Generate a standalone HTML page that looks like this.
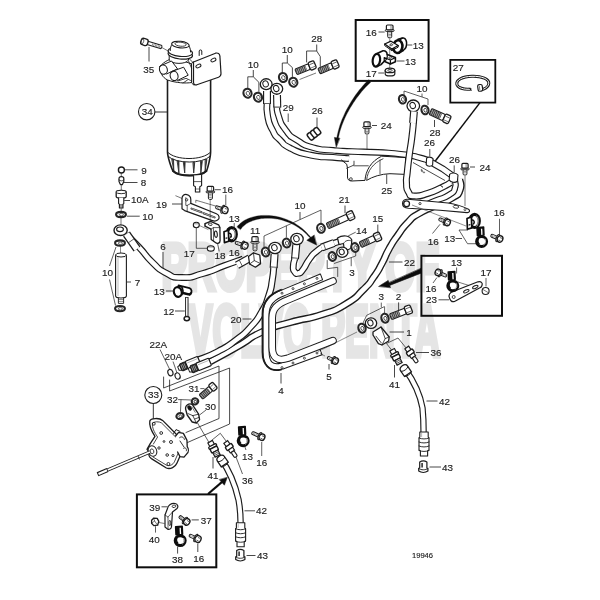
<!DOCTYPE html>
<html><head><meta charset="utf-8"><title>Fuel system parts diagram 19946</title>
<style>
html,body{margin:0;padding:0;background:#fff;}
body{width:600px;height:600px;overflow:hidden;font-family:"Liberation Sans",sans-serif;}
svg{display:block;will-change:transform;}
svg text{font-family:"Liberation Sans",sans-serif;}
</style></head><body>
<svg width="600" height="600" viewBox="0 0 600 600">
<defs><filter id="soft" x="0" y="0" width="600" height="600" filterUnits="userSpaceOnUse"><feGaussianBlur stdDeviation="0.42"/></filter></defs>
<rect x="0" y="0" width="600" height="600" fill="#ffffff"/>
<g filter="url(#soft)">
<g fill="#e5e5e5" font-weight="bold" stroke="#e5e5e5" stroke-width="4.2" stroke-linejoin="miter" stroke-miterlimit="3">
<text x="0" y="0" font-size="67" transform="translate(161.5 289.6) scale(0.5797 1)" style="vector-effect:non-scaling-stroke" vector-effect="non-scaling-stroke">PROPERTY OF</text>
<text x="0" y="0" font-size="72" transform="translate(188.5 356) scale(0.4975 1)" style="vector-effect:non-scaling-stroke" vector-effect="non-scaling-stroke">VOLVO PENTA</text>
</g>
<rect x="355.7" y="20" width="72.90000000000003" height="60.900000000000006" fill="#fff" stroke="#111" stroke-width="2.0"/>
<rect x="450.3" y="59.9" width="45.0" height="42.699999999999996" fill="#fff" stroke="#111" stroke-width="1.8"/>
<rect x="421.4" y="255.8" width="80.6" height="60" fill="none" stroke="#111" stroke-width="2"/>
<rect x="136.9" y="494.4" width="79.4" height="72.89999999999998" fill="#fff" stroke="#111" stroke-width="2.0"/>
<path d="M368.5,79.8 L366.7,81.7 L364.9,83.6 L363.1,85.6 L361.3,87.7 L359.5,89.8 L357.8,92.0 L356.1,94.3 L354.5,96.6 L352.9,99.0 L351.3,101.4 L349.8,103.9 L348.4,106.4 L347.0,109.0 L345.6,111.6 L344.4,114.2 L343.2,116.9 L342.0,119.6 L341.0,122.3 L340.0,125.0 L339.2,127.8 L338.4,130.5 L337.7,133.3 L337.1,136.1 L336.7,138.9 L338.1,139.1 L338.7,136.4 L339.3,133.7 L340.0,131.0 L340.9,128.3 L341.8,125.6 L342.8,123.0 L343.9,120.3 L345.0,117.7 L346.3,115.1 L347.6,112.6 L349.0,110.1 L350.4,107.6 L351.9,105.2 L353.4,102.8 L355.0,100.4 L356.6,98.1 L358.3,95.9 L360.0,93.7 L361.7,91.6 L363.5,89.6 L365.3,87.6 L367.1,85.7 L368.9,83.9 L370.7,82.2 Z" stroke="#111" stroke-width="0.3" fill="#111" stroke-linejoin="round" stroke-linecap="round" />
<path d="M336.2,147.0 L334.4,137.4 L339.6,138.2 Z" stroke="#111" stroke-width="0.5" fill="#111" stroke-linejoin="round" stroke-linecap="round" />
<line x1="480.0" y1="102.6" x2="426.5" y2="172.5" stroke="#111" stroke-width="1.5" />
<path d="M421.0,268.6 L421.0,273.2 L389.6,285.4 L388.8,283.0 Z" stroke="#111" stroke-width="0.6" fill="#111" stroke-linejoin="round" stroke-linecap="round" />
<path d="M378.9,286.3 L388.2,280.4 L390.4,287.4 Z" stroke="#111" stroke-width="0.6" fill="#111" stroke-linejoin="round" stroke-linecap="round" />
<line x1="208.0" y1="494.0" x2="222.4" y2="481.6" stroke="#111" stroke-width="2.1" />
<path d="M227.2,477.6 L224.4,485.2 L219.4,479.8 Z" stroke="#111" stroke-width="0.5" fill="#111" stroke-linejoin="round" stroke-linecap="round" />
<path d="M240.6,229.5 L241.4,228.4 L242.2,227.3 L243.2,226.3 L244.2,225.4 L245.4,224.5 L246.6,223.6 L248.0,222.8 L249.4,222.1 L250.9,221.4 L252.4,220.8 L254.1,220.2 L255.8,219.7 L257.5,219.3 L259.4,218.9 L261.2,218.6 L263.1,218.4 L265.1,218.3 L267.1,218.2 L269.1,218.2 L271.2,218.3 L273.3,218.5 L275.3,218.8 L277.5,219.1 L279.6,219.6 L281.7,220.1 L283.8,220.7 L285.9,221.4 L288.1,222.2 L290.2,223.0 L292.2,224.0 L294.3,225.1 L296.3,226.2 L298.3,227.5 L300.3,228.9 L302.2,230.3 L304.1,231.9 L306.0,233.6 L307.7,235.4 L309.5,237.3 L311.1,239.3 L311.9,238.7 L310.2,236.6 L308.5,234.7 L306.8,232.8 L305.0,231.0 L303.1,229.3 L301.2,227.7 L299.2,226.3 L297.2,224.9 L295.1,223.6 L293.1,222.4 L290.9,221.3 L288.8,220.4 L286.7,219.5 L284.5,218.7 L282.3,217.9 L280.1,217.3 L277.9,216.8 L275.7,216.3 L273.6,216.0 L271.4,215.7 L269.3,215.5 L267.1,215.4 L265.0,215.4 L262.9,215.4 L260.9,215.6 L258.9,215.8 L256.9,216.1 L255.0,216.5 L253.1,216.9 L251.3,217.4 L249.5,218.1 L247.8,218.7 L246.2,219.5 L244.6,220.3 L243.1,221.2 L241.7,222.2 L240.4,223.3 L239.2,224.4 L238.0,225.6 L237.0,226.9 Z" stroke="#111" stroke-width="0.3" fill="#111" stroke-linejoin="round" stroke-linecap="round" />
<path d="M316.5,245.0 L306.8,240.3 L314.0,235.2 Z" stroke="#111" stroke-width="0.5" fill="#111" stroke-linejoin="round" stroke-linecap="round" />
<path d="M404,157 L430,161 L452,176 L449,183 L414,195 L404,192 Z" stroke="#1c1c1c" stroke-width="0.0" fill="#fff" stroke-linejoin="round" stroke-linecap="round" />
<line x1="413.0" y1="162.5" x2="445.0" y2="180.5" stroke="#1c1c1c" stroke-width="0.8" />
<path d="M267.3,100.0 C267.4,105.0 265.8,105.0 267.5,115.0 C269.2,125.0 268.3,121.7 272.5,130.0 C276.7,138.3 273.8,133.8 280.0,140.0 C286.2,146.2 280.7,143.4 291.0,148.5 C301.3,153.6 297.0,152.3 311.0,155.2 C325.0,158.1 320.3,156.2 333.0,157.3 C345.7,158.4 343.7,158.2 349.0,158.6" stroke="#1c1c1c" stroke-width="6.8" fill="none" stroke-linecap="butt" stroke-linejoin="round"/>
<path d="M267.3,100.0 C267.4,105.0 265.8,105.0 267.5,115.0 C269.2,125.0 268.3,121.7 272.5,130.0 C276.7,138.3 273.8,133.8 280.0,140.0 C286.2,146.2 280.7,143.4 291.0,148.5 C301.3,153.6 297.0,152.3 311.0,155.2 C325.0,158.1 320.3,156.2 333.0,157.3 C345.7,158.4 343.7,158.2 349.0,158.6" stroke="#fff" stroke-width="4.5" fill="none" stroke-linecap="butt" stroke-linejoin="round"/>
<path d="M341.5,160 L346.7,164.2 L347.5,168.3 L347.5,177 C347.5,179.5 349,181 351.5,181 L365,180.4 C365.5,171 371,161 381.7,156.2 L405.5,157.5 L405.5,174.4 L390,173.7 C381,174 373,176.5 366.7,180.3" stroke="#1c1c1c" stroke-width="1.0" fill="#fff" stroke-linejoin="round" stroke-linecap="round" />
<path d="M366.7,179.5 C367.5,171 373,163 383,158.8" stroke="#1c1c1c" stroke-width="0.8" fill="none" stroke-linejoin="round" stroke-linecap="round" />
<path d="M346.7,168.3 L354,165 L354,161.2 M354,165.8 L368.3,165.8" stroke="#1c1c1c" stroke-width="0.8" fill="none" stroke-linejoin="round" stroke-linecap="round" />
<line x1="380.0" y1="159.5" x2="380.0" y2="174.2" stroke="#1c1c1c" stroke-width="0.7" />
<circle cx="350.9" cy="179.1" r="1.4" stroke="#1c1c1c" stroke-width="0.8" fill="none"/>
<text x="386.7" y="194.3" font-size="9.9" text-anchor="middle" fill="#222" stroke="#222" stroke-width="0.15">25</text>
<line x1="386.7" y1="174.5" x2="386.7" y2="184.0" stroke="#1c1c1c" stroke-width="0.8" />
<path d="M277.3,104.0 C277.6,107.7 275.4,106.2 278.3,115.0 C281.2,123.8 279.6,122.0 286.0,130.5 C292.4,139.0 288.5,134.8 297.5,140.5 C306.5,146.2 301.2,144.3 313.0,147.6 C324.8,150.9 320.0,149.0 333.0,150.3 C346.0,151.6 337.0,150.8 352.0,151.5 C367.0,152.2 361.0,151.4 378.0,152.4 C395.0,153.4 389.0,152.6 403.0,154.4 C417.0,156.2 411.3,155.6 420.0,157.8 C428.7,160.0 426.0,159.9 429.0,161.0" stroke="#1c1c1c" stroke-width="6.6" fill="none" stroke-linecap="butt" stroke-linejoin="round"/>
<path d="M277.3,104.0 C277.6,107.7 275.4,106.2 278.3,115.0 C281.2,123.8 279.6,122.0 286.0,130.5 C292.4,139.0 288.5,134.8 297.5,140.5 C306.5,146.2 301.2,144.3 313.0,147.6 C324.8,150.9 320.0,149.0 333.0,150.3 C346.0,151.6 337.0,150.8 352.0,151.5 C367.0,152.2 361.0,151.4 378.0,152.4 C395.0,153.4 389.0,152.6 403.0,154.4 C417.0,156.2 411.3,155.6 420.0,157.8 C428.7,160.0 426.0,159.9 429.0,161.0" stroke="#fff" stroke-width="4.3" fill="none" stroke-linecap="butt" stroke-linejoin="round"/>
<path d="M429,161 L443,169 L453.5,176.5" stroke="#1c1c1c" stroke-width="7" fill="none" stroke-linecap="butt" stroke-linejoin="round"/>
<path d="M429,161 L443,169 L453.5,176.5" stroke="#fff" stroke-width="4.7" fill="none" stroke-linecap="butt" stroke-linejoin="round"/>
<path d="M459.5,179.0 C459.7,182.7 462.5,183.7 460.0,190.0 C457.5,196.3 460.0,192.8 452.0,198.0 C444.0,203.2 447.1,200.3 436.0,205.5 C424.9,210.7 428.0,208.1 418.7,213.7 C409.4,219.3 414.9,215.2 408.0,222.3 C401.1,229.4 404.3,226.1 398.0,235.0 C391.7,243.9 394.3,239.6 389.0,249.0 C383.7,258.4 387.0,254.1 382.0,263.3 C377.0,272.5 380.3,267.8 374.0,276.7 C367.7,285.6 372.3,280.9 363.0,290.0 C353.7,299.1 359.7,295.8 346.0,304.0 C332.3,312.2 340.7,308.3 322.0,314.5 C303.3,320.7 310.0,316.7 290.0,322.5 C270.0,328.3 279.3,324.1 262.0,332.0 C244.7,339.9 255.3,336.4 238.0,346.3 C220.7,356.2 219.3,356.6 210.0,361.7" stroke="#1c1c1c" stroke-width="7.4" fill="none" stroke-linecap="butt" stroke-linejoin="round"/>
<path d="M459.5,179.0 C459.7,182.7 462.5,183.7 460.0,190.0 C457.5,196.3 460.0,192.8 452.0,198.0 C444.0,203.2 447.1,200.3 436.0,205.5 C424.9,210.7 428.0,208.1 418.7,213.7 C409.4,219.3 414.9,215.2 408.0,222.3 C401.1,229.4 404.3,226.1 398.0,235.0 C391.7,243.9 394.3,239.6 389.0,249.0 C383.7,258.4 387.0,254.1 382.0,263.3 C377.0,272.5 380.3,267.8 374.0,276.7 C367.7,285.6 372.3,280.9 363.0,290.0 C353.7,299.1 359.7,295.8 346.0,304.0 C332.3,312.2 340.7,308.3 322.0,314.5 C303.3,320.7 310.0,316.7 290.0,322.5 C270.0,328.3 279.3,324.1 262.0,332.0 C244.7,339.9 255.3,336.4 238.0,346.3 C220.7,356.2 219.3,356.6 210.0,361.7" stroke="#fff" stroke-width="4.7" fill="none" stroke-linecap="butt" stroke-linejoin="round"/>
<path d="M454.5,179.0 C454.7,182.0 456.8,182.7 455.0,188.0 C453.2,193.3 455.3,190.8 449.0,195.0 C442.7,199.2 444.3,197.0 436.0,200.5 C427.7,204.0 428.0,203.8 424.0,205.5" stroke="#1c1c1c" stroke-width="6.4" fill="none" stroke-linecap="butt" stroke-linejoin="round"/>
<path d="M454.5,179.0 C454.7,182.0 456.8,182.7 455.0,188.0 C453.2,193.3 455.3,190.8 449.0,195.0 C442.7,199.2 444.3,197.0 436.0,200.5 C427.7,204.0 428.0,203.8 424.0,205.5" stroke="#fff" stroke-width="4.1000000000000005" fill="none" stroke-linecap="butt" stroke-linejoin="round"/>
<path d="M413.6,121.0 C413.0,126.7 413.2,126.7 411.8,138.0 C410.4,149.3 410.8,143.7 409.3,155.0 C407.8,166.3 408.2,162.7 407.3,172.0 C406.4,181.3 406.1,176.3 406.5,183.0 C406.9,189.7 405.8,187.7 408.5,192.0 C411.2,196.3 408.0,195.6 414.5,196.0 C421.0,196.4 418.8,196.2 428.0,193.3 C437.2,190.4 434.3,190.9 442.0,187.3 C449.7,183.7 448.0,184.1 451.0,182.5" stroke="#1c1c1c" stroke-width="7.0" fill="none" stroke-linecap="butt" stroke-linejoin="round"/>
<path d="M413.6,121.0 C413.0,126.7 413.2,126.7 411.8,138.0 C410.4,149.3 410.8,143.7 409.3,155.0 C407.8,166.3 408.2,162.7 407.3,172.0 C406.4,181.3 406.1,176.3 406.5,183.0 C406.9,189.7 405.8,187.7 408.5,192.0 C411.2,196.3 408.0,195.6 414.5,196.0 C421.0,196.4 418.8,196.2 428.0,193.3 C437.2,190.4 434.3,190.9 442.0,187.3 C449.7,183.7 448.0,184.1 451.0,182.5" stroke="#fff" stroke-width="4.7" fill="none" stroke-linecap="butt" stroke-linejoin="round"/>
<line x1="440.0" y1="185.0" x2="443.0" y2="187.5" stroke="#1c1c1c" stroke-width="0.7" />
<circle cx="422.2" cy="171.2" r="0.6" stroke="#1c1c1c" stroke-width="0.6" fill="none"/>
<circle cx="424.0" cy="172.4" r="0.6" stroke="#1c1c1c" stroke-width="0.6" fill="none"/>
<path d="M402.5,203.5 C402.5,200.5 405,199 408,199.3 L448,203 C455,204 463,206.5 468.5,209.3 C470.5,210.5 469.5,212.8 467,212.6 L440,210.3 L408.5,208.3 C405,208 402.5,206.5 402.5,203.5 Z" stroke="#1c1c1c" stroke-width="1.1" fill="#fff" stroke-linejoin="round" stroke-linecap="round" />
<ellipse cx="456.0" cy="206.8" rx="2.8" ry="1.4" transform="rotate(8 456.0 206.8)" stroke="#1c1c1c" stroke-width="0.8" fill="none"/>
<circle cx="465.0" cy="209.6" r="1.0" stroke="#1c1c1c" stroke-width="0.7" fill="none"/>
<circle cx="406.6" cy="203.8" r="2.9" stroke="#1c1c1c" stroke-width="1.3" fill="none"/>
<circle cx="420.0" cy="203.6" r="1.1" stroke="#1c1c1c" stroke-width="0.8" fill="none"/>
<path d="M273.8,266.0 C273.3,270.7 274.0,270.0 272.3,280.0 C270.6,290.0 272.2,285.3 268.6,296.0 C265.0,306.7 267.6,301.7 261.6,312.0 C255.6,322.3 259.1,317.7 250.6,327.0 C242.1,336.3 246.9,331.8 236.0,340.0 C225.1,348.2 230.7,344.8 218.0,351.5 C205.3,358.2 204.7,357.2 198.0,360.0" stroke="#1c1c1c" stroke-width="7.0" fill="none" stroke-linecap="butt" stroke-linejoin="round"/>
<path d="M273.8,266.0 C273.3,270.7 274.0,270.0 272.3,280.0 C270.6,290.0 272.2,285.3 268.6,296.0 C265.0,306.7 267.6,301.7 261.6,312.0 C255.6,322.3 259.1,317.7 250.6,327.0 C242.1,336.3 246.9,331.8 236.0,340.0 C225.1,348.2 230.7,344.8 218.0,351.5 C205.3,358.2 204.7,357.2 198.0,360.0" stroke="#fff" stroke-width="4.6000000000000005" fill="none" stroke-linecap="butt" stroke-linejoin="round"/>
<path d="M126.0,234.5 C130.3,238.7 130.2,237.9 139.0,247.2 C147.8,256.5 143.5,253.9 152.5,262.5 C161.5,271.1 156.2,268.0 166.0,273.0 C175.8,278.0 169.7,277.3 182.0,277.5 C194.3,277.7 188.8,277.5 203.0,273.5 C217.2,269.5 211.4,270.3 224.7,265.5 C238.0,260.7 236.9,261.2 243.0,259.0" stroke="#1c1c1c" stroke-width="6.8" fill="none" stroke-linecap="butt" stroke-linejoin="round"/>
<path d="M126.0,234.5 C130.3,238.7 130.2,237.9 139.0,247.2 C147.8,256.5 143.5,253.9 152.5,262.5 C161.5,271.1 156.2,268.0 166.0,273.0 C175.8,278.0 169.7,277.3 182.0,277.5 C194.3,277.7 188.8,277.5 203.0,273.5 C217.2,269.5 211.4,270.3 224.7,265.5 C238.0,260.7 236.9,261.2 243.0,259.0" stroke="#fff" stroke-width="4.5" fill="none" stroke-linecap="butt" stroke-linejoin="round"/>
<path d="M295.0,258.0 C294.4,260.7 293.5,261.5 293.3,266.0 C293.1,270.5 292.8,269.1 294.5,271.5 C296.2,273.9 295.7,274.0 298.5,273.3 C301.3,272.6 299.3,274.3 303.0,269.5 C306.7,264.7 304.8,265.2 309.5,259.0 C314.2,252.8 311.5,255.3 317.0,251.0 C322.5,246.7 318.3,249.2 326.0,246.0 C333.7,242.8 335.3,242.9 340.0,241.3" stroke="#1c1c1c" stroke-width="6.8" fill="none" stroke-linecap="butt" stroke-linejoin="round"/>
<path d="M295.0,258.0 C294.4,260.7 293.5,261.5 293.3,266.0 C293.1,270.5 292.8,269.1 294.5,271.5 C296.2,273.9 295.7,274.0 298.5,273.3 C301.3,272.6 299.3,274.3 303.0,269.5 C306.7,264.7 304.8,265.2 309.5,259.0 C314.2,252.8 311.5,255.3 317.0,251.0 C322.5,246.7 318.3,249.2 326.0,246.0 C333.7,242.8 335.3,242.9 340.0,241.3" stroke="#fff" stroke-width="4.5" fill="none" stroke-linecap="butt" stroke-linejoin="round"/>
<path d="M321.5,276.8 L284,292.5 C271,297 266,304 266,314 L266,352 C266,363 271,369.5 282,366 L321,351.8" stroke="#1c1c1c" stroke-width="7.2" fill="none" stroke-linejoin="round" stroke-linecap="butt"/>
<path d="M321.5,276.8 L284,292.5 C271,297 266,304 266,314 L266,352 C266,363 271,369.5 282,366 L321,351.8" stroke="#fff" stroke-width="5.2" fill="none" stroke-linejoin="round" stroke-linecap="butt"/>
<line x1="320.3" y1="273.6" x2="322.7" y2="280.2" stroke="#1c1c1c" stroke-width="1.0" />
<line x1="319.8" y1="348.6" x2="322.2" y2="355.2" stroke="#1c1c1c" stroke-width="1.0" />
<path d="M281,289.8 C268,294.5 262.5,302 262.5,314 L262.5,352 C262.5,364 269,372.5 281,369.6" stroke="#1c1c1c" stroke-width="1.8" fill="none" stroke-linejoin="round" stroke-linecap="round" />
<path d="M333,281 L288,299.8 C277,304 272.2,309 272.2,318 L272.2,347 C272.2,357 277,362 288,358.2 L333,340.6" stroke="#1c1c1c" stroke-width="7.6" fill="none" stroke-linejoin="round" stroke-linecap="round"/>
<path d="M333,281 L288,299.8 C277,304 272.2,309 272.2,318 L272.2,347 C272.2,357 277,362 288,358.2 L333,340.6" stroke="#fff" stroke-width="5.6" fill="none" stroke-linejoin="round" stroke-linecap="round"/>
<circle cx="282.0" cy="293.2" r="1.0" stroke="#1c1c1c" stroke-width="0.8" fill="none"/>
<circle cx="293.0" cy="288.6" r="1.0" stroke="#1c1c1c" stroke-width="0.8" fill="none"/>
<circle cx="304.4" cy="283.8" r="1.0" stroke="#1c1c1c" stroke-width="0.8" fill="none"/>
<circle cx="317.0" cy="278.4" r="1.0" stroke="#1c1c1c" stroke-width="0.8" fill="none"/>
<circle cx="282.0" cy="367.6" r="1.0" stroke="#1c1c1c" stroke-width="0.8" fill="none"/>
<circle cx="293.0" cy="363.0" r="1.0" stroke="#1c1c1c" stroke-width="0.8" fill="none"/>
<circle cx="304.4" cy="358.2" r="1.0" stroke="#1c1c1c" stroke-width="0.8" fill="none"/>
<circle cx="317.0" cy="353.0" r="1.0" stroke="#1c1c1c" stroke-width="0.8" fill="none"/>
<path d="M220.6,458.5 C227.6,468 235,484 238.6,500 C240,508 240.6,515 240.6,523" stroke="#1c1c1c" stroke-width="6.4" fill="none" stroke-linecap="butt" stroke-linejoin="round"/>
<path d="M220.6,458.5 C227.6,468 235,484 238.6,500 C240,508 240.6,515 240.6,523" stroke="#fff" stroke-width="4.1000000000000005" fill="none" stroke-linecap="butt" stroke-linejoin="round"/>
<path d="M405,369 C413,380 420,394 422.5,408 C423.5,418 423.6,425 423.6,433" stroke="#1c1c1c" stroke-width="6.4" fill="none" stroke-linecap="butt" stroke-linejoin="round"/>
<path d="M405,369 C413,380 420,394 422.5,408 C423.5,418 423.6,425 423.6,433" stroke="#fff" stroke-width="4.1000000000000005" fill="none" stroke-linecap="butt" stroke-linejoin="round"/>
<path d="M167.5,79 L167.5,152 C167.5,157 171.6,168.6 173,171 C179,177 200.4,177 206.4,171 C207.8,168.4 210.6,157 210.6,152 L210.6,80" stroke="#1c1c1c" stroke-width="1.6" fill="#fff" stroke-linejoin="round" stroke-linecap="round" />
<path d="M167.5,152 C175,160.8 203,160.8 210.6,152" stroke="#1c1c1c" stroke-width="1.0" fill="none" stroke-linejoin="round" stroke-linecap="round" />
<path d="M168.2,156.4 C176,164 202.6,164 209.9,156.4" stroke="#1c1c1c" stroke-width="1.0" fill="none" stroke-linejoin="round" stroke-linecap="round" />
<path d="M172.10000000000002,159 L173.5,159 L173.83200000000002,170.6 Z" stroke="#2a2a2a" stroke-width="0.9" fill="#2a2a2a" stroke-linejoin="round" stroke-linecap="round" />
<path d="M177.5,161 L178.89999999999998,161 L178.908,172.6 Z" stroke="#2a2a2a" stroke-width="0.9" fill="#2a2a2a" stroke-linejoin="round" stroke-linecap="round" />
<path d="M183.70000000000002,162.2 L185.1,162.2 L184.73600000000002,172.6 Z" stroke="#2a2a2a" stroke-width="0.9" fill="#2a2a2a" stroke-linejoin="round" stroke-linecap="round" />
<path d="M193.3,162.4 L194.7,162.4 L193.76,172.6 Z" stroke="#2a2a2a" stroke-width="0.9" fill="#2a2a2a" stroke-linejoin="round" stroke-linecap="round" />
<path d="M200.9,161.2 L202.29999999999998,161.2 L200.904,172.6 Z" stroke="#2a2a2a" stroke-width="0.9" fill="#2a2a2a" stroke-linejoin="round" stroke-linecap="round" />
<path d="M205.5,159.4 L206.89999999999998,159.4 L205.22799999999998,170.6 Z" stroke="#2a2a2a" stroke-width="0.9" fill="#2a2a2a" stroke-linejoin="round" stroke-linecap="round" />
<path d="M173,171 C179,177 200.4,177 206.4,171" stroke="#1c1c1c" stroke-width="1.9" fill="none" stroke-linejoin="round" stroke-linecap="round" />
<path d="M193.6,175.6 L193.6,185.6 L195.4,186.8 L195.4,192 L199.8,192 L199.8,186.8 L201.6,185.6 L201.6,175" stroke="#1c1c1c" stroke-width="1.1" fill="#fff" stroke-linejoin="round" stroke-linecap="round" />
<line x1="193.6" y1="181.6" x2="201.6" y2="181.6" stroke="#1c1c1c" stroke-width="0.7" />
<line x1="195.4" y1="189.0" x2="199.8" y2="189.0" stroke="#1c1c1c" stroke-width="0.6" />
<path d="M193.5,62 L215.5,53.2 C218,52.5 219.6,53.6 219.9,56 L221,73.5 C221,75.5 220,76.6 218.5,77.2 L196.8,84.8 C194.6,85.3 193.6,84.2 193.5,82.2 Z" stroke="#1c1c1c" stroke-width="1.2" fill="#fff" stroke-linejoin="round" stroke-linecap="round" />
<path d="M193.5,62 L191.4,63.4 L191.6,83 L193.8,85" stroke="#1c1c1c" stroke-width="1.0" fill="none" stroke-linejoin="round" stroke-linecap="round" />
<ellipse cx="198.4" cy="66.0" rx="2.7" ry="1.5" transform="rotate(-25 198.4 66.0)" stroke="#1c1c1c" stroke-width="1.0" fill="none"/>
<ellipse cx="213.4" cy="60.0" rx="2.7" ry="1.5" transform="rotate(-25 213.4 60.0)" stroke="#1c1c1c" stroke-width="1.0" fill="none"/>
<path d="M160,66.5 C164,61.5 170,58.5 176,58 L191.5,64 L191.6,82.5 C186,83.5 176,83 167.5,80 C162.5,77.5 159.5,72.5 160,66.5 Z" stroke="#1c1c1c" stroke-width="1.0" fill="#fff" stroke-linejoin="round" stroke-linecap="round" />
<path d="M169.2,54 L169.2,60 C172,64.5 186,64.5 188.5,60 L188.5,54 Z" stroke="#1c1c1c" stroke-width="1.0" fill="#fff" stroke-linejoin="round" stroke-linecap="round" />
<path d="M188.5,58 L193,62.5 M188.5,61 L191.5,68" stroke="#1c1c1c" stroke-width="0.8" fill="none" stroke-linejoin="round" stroke-linecap="round" />
<ellipse cx="180.3" cy="54.6" rx="12.3" ry="4.4" transform="rotate(6 180.3 54.6)" stroke="#1c1c1c" stroke-width="1.1" fill="#fff"/>
<ellipse cx="180.3" cy="52.0" rx="12.3" ry="4.4" transform="rotate(6 180.3 52.0)" stroke="#1c1c1c" stroke-width="1.1" fill="#fff"/>
<path d="M170.2,50.6 C170,47 172,43.5 174,42.6 L186.8,43.4 C189,45 190.8,48.5 190.6,52" stroke="#1c1c1c" stroke-width="1.0" fill="#fff" stroke-linejoin="round" stroke-linecap="round" />
<ellipse cx="180.4" cy="44.6" rx="8.8" ry="3.3" transform="rotate(6 180.4 44.6)" stroke="#1c1c1c" stroke-width="1.1" fill="#fff"/>
<ellipse cx="180.6" cy="44.2" rx="5.6" ry="2.0" transform="rotate(6 180.6 44.2)" stroke="#1c1c1c" stroke-width="0.8" fill="#fff"/>
<path d="M199.2,55.5 L199.2,51 C199.2,49.6 201.8,49.6 201.8,51 L201.8,54.5" stroke="#1c1c1c" stroke-width="1.0" fill="#fff" stroke-linejoin="round" stroke-linecap="round" />
<path d="M160.6,65.8 L171.5,61 L177.5,68.8 L166.6,74" stroke="#1c1c1c" stroke-width="1.0" fill="#fff" stroke-linejoin="round" stroke-linecap="round" />
<ellipse cx="163.4" cy="69.6" rx="3.9" ry="4.7" transform="rotate(-15 163.4 69.6)" stroke="#1c1c1c" stroke-width="1.1" fill="#fff"/>
<path d="M171,71.8 L183.6,67.2 L188.2,75.2 L177.6,80.4" stroke="#1c1c1c" stroke-width="1.0" fill="#fff" stroke-linejoin="round" stroke-linecap="round" />
<ellipse cx="174.1" cy="75.9" rx="3.9" ry="4.7" transform="rotate(-15 174.1 75.9)" stroke="#1c1c1c" stroke-width="1.1" fill="#fff"/>
<path d="M178,81 L186,78.3 L190.5,80.4 M183,83 L187.5,80" stroke="#1c1c1c" stroke-width="0.8" fill="none" stroke-linejoin="round" stroke-linecap="round" />
<circle cx="146.7" cy="111.7" r="8.2" stroke="#1c1c1c" stroke-width="1.1" fill="#fff"/>
<text x="147.2" y="115.2" font-size="9.9" text-anchor="middle" fill="#222" stroke="#222" stroke-width="0.15">34</text>
<line x1="155.0" y1="112.0" x2="167.5" y2="112.0" stroke="#1c1c1c" stroke-width="0.9" />
<g transform="translate(144.5 42) rotate(17)">
<rect x="3" y="-1.7" width="15" height="3.4" rx="1" fill="#fff" stroke="#1c1c1c" stroke-width="1.0"/>
<line x1="8" y1="0" x2="17.4" y2="0" stroke="#666" stroke-width="2.0" stroke-dasharray="0.7 0.8"/>
<rect x="-3.6" y="-3.3" width="7" height="6.6" rx="2.2" fill="#fff" stroke="#1c1c1c" stroke-width="1.3"/>
<ellipse cx="-2.2" cy="0" rx="1.3" ry="2.4" fill="none" stroke="#333" stroke-width="0.7"/>
</g>
<line x1="162.0" y1="47.6" x2="169.0" y2="51.5" stroke="#1c1c1c" stroke-width="0.6" />
<line x1="149.0" y1="47.0" x2="149.0" y2="61.5" stroke="#1c1c1c" stroke-width="0.8" />
<text x="148.7" y="72.5" font-size="9.9" text-anchor="middle" fill="#222" stroke="#222" stroke-width="0.15">35</text>
<circle cx="121.4" cy="170.0" r="3.0" stroke="#1c1c1c" stroke-width="1.4" fill="#fff"/>
<line x1="124.8" y1="169.8" x2="137.5" y2="169.8" stroke="#1c1c1c" stroke-width="0.8" />
<text x="144.0" y="173.5" font-size="9.9" text-anchor="middle" fill="#222" stroke="#222" stroke-width="0.15">9</text>
<path d="M119,178.6 C119,176 123.8,176 123.8,178.6 L123.8,181.4 L122.4,184.6 L120.4,184.6 L119,181.4 Z" stroke="#1c1c1c" stroke-width="1.2" fill="#fff" stroke-linejoin="round" stroke-linecap="round" />
<path d="M119,180 C120.4,181.2 122.4,181.2 123.8,180" stroke="#1c1c1c" stroke-width="0.8" fill="none" stroke-linejoin="round" stroke-linecap="round" />
<line x1="123.4" y1="182.5" x2="137.5" y2="182.5" stroke="#1c1c1c" stroke-width="0.8" />
<text x="143.6" y="186.1" font-size="9.9" text-anchor="middle" fill="#222" stroke="#222" stroke-width="0.15">8</text>
<path d="M116.2,192 C116.2,189.8 126.2,189.8 126.2,192 L126.2,196.4 C126.2,198.6 116.2,198.6 116.2,196.4 Z" stroke="#1c1c1c" stroke-width="1.3" fill="#fff" stroke-linejoin="round" stroke-linecap="round" />
<ellipse cx="121.2" cy="192.0" rx="5" ry="1.7" transform="rotate(0 121.2 192.0)" stroke="#1c1c1c" stroke-width="0.9" fill="#fff"/>
<path d="M118.6,198 L118.6,203.6 L119.4,204.2 L119.4,208 L123,208 L123,204.2 L123.8,203.6 L123.8,198" stroke="#1c1c1c" stroke-width="1.1" fill="#fff" stroke-linejoin="round" stroke-linecap="round" />
<line x1="119.4" y1="204.6" x2="123.0" y2="204.6" stroke="#1c1c1c" stroke-width="0.6" />
<line x1="119.4" y1="205.8" x2="123.0" y2="205.8" stroke="#1c1c1c" stroke-width="0.6" />
<line x1="119.4" y1="207.0" x2="123.0" y2="207.0" stroke="#1c1c1c" stroke-width="0.6" />
<line x1="124.2" y1="200.5" x2="130.0" y2="200.5" stroke="#1c1c1c" stroke-width="0.8" />
<text x="139.8" y="202.9" font-size="9.9" text-anchor="middle" fill="#222" stroke="#222" stroke-width="0.15">10A</text>
<ellipse cx="121.0" cy="214.5" rx="4.9" ry="2.6" transform="rotate(0 121.0 214.5)" stroke="#262626" stroke-width="2.1" fill="#fff"/>
<ellipse cx="121.4" cy="214.7" rx="2.0580000000000003" ry="1.1960000000000002" transform="rotate(0 121.4 214.7)" stroke="#333" stroke-width="0.8" fill="#fff"/>
<line x1="127.0" y1="216.2" x2="139.7" y2="216.2" stroke="#1c1c1c" stroke-width="0.8" />
<text x="147.7" y="219.5" font-size="9.9" text-anchor="middle" fill="#222" stroke="#222" stroke-width="0.15">10</text>
<ellipse cx="120.6" cy="230.2" rx="6.6" ry="5.3" transform="rotate(0 120.6 230.2)" stroke="#1c1c1c" stroke-width="1.4" fill="#fff"/>
<ellipse cx="120.0" cy="229.3" rx="3.4" ry="2.3" transform="rotate(0 120.0 229.3)" stroke="#1c1c1c" stroke-width="1.1" fill="#fff"/>
<path d="M126.5,234 L137,249" stroke="#1c1c1c" stroke-width="8.4" fill="none" stroke-linecap="butt" stroke-linejoin="round"/>
<path d="M126.5,234 L137,249" stroke="#fff" stroke-width="5.9" fill="none" stroke-linecap="butt" stroke-linejoin="round"/>
<line x1="134.4" y1="238.6" x2="128.6" y2="242.6" stroke="#1c1c1c" stroke-width="0.7" />
<ellipse cx="120.0" cy="243.0" rx="4.9" ry="2.6" transform="rotate(0 120.0 243.0)" stroke="#262626" stroke-width="2.1" fill="#fff"/>
<ellipse cx="120.4" cy="243.2" rx="2.0580000000000003" ry="1.1960000000000002" transform="rotate(0 120.4 243.2)" stroke="#333" stroke-width="0.8" fill="#fff"/>
<path d="M118.4,297 L118.4,303.4 L123.6,303.4 L123.6,297" stroke="#1c1c1c" stroke-width="0.9" fill="#fff" stroke-linejoin="round" stroke-linecap="round" />
<line x1="118.4" y1="299.5" x2="123.6" y2="299.5" stroke="#1c1c1c" stroke-width="0.5" />
<line x1="118.4" y1="301.4" x2="123.6" y2="301.4" stroke="#1c1c1c" stroke-width="0.5" />
<path d="M115.6,255 L115.6,296 C115.6,298.6 126.4,298.6 126.4,296 L126.4,255" stroke="#1c1c1c" stroke-width="1.1" fill="#fff" stroke-linejoin="round" stroke-linecap="round" />
<ellipse cx="121.0" cy="255.0" rx="5.4" ry="2.0" transform="rotate(0 121.0 255.0)" stroke="#1c1c1c" stroke-width="1.0" fill="#fff"/>
<line x1="118.0" y1="257.5" x2="118.0" y2="296.0" stroke="#777" stroke-width="0.5" />
<ellipse cx="120.0" cy="308.6" rx="4.9" ry="2.6" transform="rotate(0 120.0 308.6)" stroke="#262626" stroke-width="2.1" fill="#fff"/>
<ellipse cx="120.4" cy="308.8" rx="2.0580000000000003" ry="1.1960000000000002" transform="rotate(0 120.4 308.8)" stroke="#333" stroke-width="0.8" fill="#fff"/>
<text x="107.5" y="276.3" font-size="9.9" text-anchor="middle" fill="#222" stroke="#222" stroke-width="0.15">10</text>
<line x1="109.5" y1="266.0" x2="116.0" y2="247.0" stroke="#1c1c1c" stroke-width="0.7" />
<line x1="109.5" y1="279.5" x2="115.5" y2="305.5" stroke="#1c1c1c" stroke-width="0.7" />
<line x1="127.0" y1="282.0" x2="131.0" y2="282.0" stroke="#1c1c1c" stroke-width="0.8" />
<text x="137.5" y="286.0" font-size="9.9" text-anchor="middle" fill="#222" stroke="#222" stroke-width="0.15">7</text>
<line x1="121.3" y1="173.2" x2="121.3" y2="176.5" stroke="#1c1c1c" stroke-width="0.6" />
<line x1="121.3" y1="185.0" x2="121.3" y2="190.0" stroke="#1c1c1c" stroke-width="0.6" />
<line x1="121.2" y1="208.4" x2="121.2" y2="212.0" stroke="#1c1c1c" stroke-width="0.6" />
<line x1="121.0" y1="217.4" x2="121.0" y2="224.6" stroke="#1c1c1c" stroke-width="0.6" />
<line x1="120.5" y1="246.0" x2="120.5" y2="253.0" stroke="#1c1c1c" stroke-width="0.5" />
<text x="163.0" y="249.5" font-size="9.9" text-anchor="middle" fill="#222" stroke="#222" stroke-width="0.15">6</text>
<line x1="163.0" y1="252.0" x2="163.0" y2="268.0" stroke="#1c1c1c" stroke-width="0.8" />
<path d="M182,208.8 L182,198.5 C182,195.6 184.2,194 186.8,194.6 C189.4,195.2 190.8,197 190.8,199.6 L190.8,203.4 L216.4,213.8 C219.6,215.2 220,218.4 217.6,220 C216,221.2 214,221.2 212.4,220.6 L184.6,210.6 Z" stroke="#1c1c1c" stroke-width="1.2" fill="#fff" stroke-linejoin="round" stroke-linecap="round" />
<path d="M190.8,203.4 L187.2,205.4 L185.8,205.4 L185.8,197.6 M187.2,205.4 L187.2,211.4" stroke="#1c1c1c" stroke-width="0.7" fill="none" stroke-linejoin="round" stroke-linecap="round" />
<circle cx="186.6" cy="199.8" r="1.2" stroke="#1c1c1c" stroke-width="0.8" fill="none"/>
<path d="M191.5,208.6 L201.5,212.3" stroke="#2a2a2a" stroke-width="2.0" fill="none" stroke-linejoin="round" stroke-linecap="round" />
<path d="M191.8,208.7 L201.2,212.2" stroke="#fff" stroke-width="0.6" fill="none" stroke-linejoin="round" stroke-linecap="round" />
<path d="M203.5,213.2 L214.6,217.4" stroke="#2a2a2a" stroke-width="2.0" fill="none" stroke-linejoin="round" stroke-linecap="round" />
<path d="M203.8,213.3 L214.3,217.3" stroke="#fff" stroke-width="0.6" fill="none" stroke-linejoin="round" stroke-linecap="round" />
<line x1="172.0" y1="204.0" x2="182.0" y2="204.0" stroke="#1c1c1c" stroke-width="0.8" />
<text x="161.5" y="207.8" font-size="9.9" text-anchor="middle" fill="#222" stroke="#222" stroke-width="0.15">19</text>
<path d="M175.8,195.8 L181.7,198.3" stroke="#1c1c1c" stroke-width="0.6" fill="none" stroke-linejoin="round" stroke-linecap="round" />
<path d="M195.8,202.4 L195.8,200.2 L223.3,208.3" stroke="#1c1c1c" stroke-width="0.6" fill="none" stroke-linejoin="round" stroke-linecap="round" />
<g transform="translate(210.4 189.0) rotate(90.0)">
<rect x="3" y="-2.0" width="7.4" height="4.0" rx="1.2" fill="#fff" stroke="#1c1c1c" stroke-width="1.0"/>
<line x1="5" y1="0" x2="9.6" y2="0" stroke="#777" stroke-width="2.6" stroke-dasharray="0.7 0.8"/>
<rect x="2.0" y="-4.3" width="1.8" height="8.6" rx="0.9" fill="#fff" stroke="#1c1c1c" stroke-width="1.0"/>
<rect x="-2.6" y="-3.2" width="4.8" height="6.4" rx="1.1" fill="#fff" stroke="#1c1c1c" stroke-width="1.2"/>
<line x1="-2.2" y1="-1.2000000000000002" x2="1.8" y2="-1.2000000000000002" stroke="#333" stroke-width="0.6"/>
</g>
<line x1="214.6" y1="189.7" x2="220.8" y2="189.7" stroke="#1c1c1c" stroke-width="0.8" />
<text x="227.5" y="193.3" font-size="9.9" text-anchor="middle" fill="#222" stroke="#222" stroke-width="0.15">16</text>
<line x1="225.8" y1="194.6" x2="225.8" y2="205.6" stroke="#1c1c1c" stroke-width="0.7" />
<line x1="210.2" y1="200.0" x2="210.2" y2="224.5" stroke="#1c1c1c" stroke-width="0.5" />
<g transform="translate(225.0 210.0) rotate(-161.9)">
<rect x="2" y="-1.5" width="7.7" height="3.0" rx="1.2" fill="#fff" stroke="#1c1c1c" stroke-width="1.0"/>
<line x1="4.6" y1="0" x2="8.9" y2="0" stroke="#666" stroke-width="1.8" stroke-dasharray="0.7 0.8"/>
<ellipse cx="2.4" cy="0" rx="1.5" ry="4.1" fill="#fff" stroke="#1c1c1c" stroke-width="1.1"/>
<ellipse cx="0" cy="0" rx="3.06" ry="3.6" fill="#fff" stroke="#1c1c1c" stroke-width="1.4"/>
<path d="M-1.2,-1.62 L1,-1.62 M-1.6,1.4400000000000002 L0.6,1.4400000000000002" stroke="#333" stroke-width="0.7" fill="none"/>
</g>
<path d="M205,223.6 L210.6,221.4 L218.6,224.8 L219.9,227.6 L220.1,240.4 C220.1,243.2 217.4,244.2 215.4,242.6 L211.2,239.4 L211,229.2 L205,226.2 Z" stroke="#1c1c1c" stroke-width="1.3" fill="#fff" stroke-linejoin="round" stroke-linecap="round" />
<path d="M205,226.2 L205,223.6 M211,229.2 L213.4,227.6 L219.9,227.6 M213.4,227.6 L213.6,241.2" stroke="#1c1c1c" stroke-width="0.7" fill="none" stroke-linejoin="round" stroke-linecap="round" />
<ellipse cx="215.9" cy="234.2" rx="1.4" ry="3.2" transform="rotate(-5 215.9 234.2)" stroke="#1c1c1c" stroke-width="1.1" fill="none"/>
<ellipse cx="210.2" cy="224.3" rx="2.0" ry="1.1" transform="rotate(15 210.2 224.3)" stroke="#1c1c1c" stroke-width="0.8" fill="none"/>
<line x1="217.6" y1="243.6" x2="219.2" y2="251.4" stroke="#1c1c1c" stroke-width="0.7" />
<text x="220.0" y="259.4" font-size="9.9" text-anchor="middle" fill="#222" stroke="#222" stroke-width="0.15">18</text>
<ellipse cx="196.3" cy="225.0" rx="3.0" ry="2.7" transform="rotate(0 196.3 225.0)" stroke="#1c1c1c" stroke-width="1.1" fill="#fff"/>
<line x1="194.4" y1="223.8" x2="198.2" y2="223.8" stroke="#1c1c1c" stroke-width="0.5" />
<ellipse cx="210.8" cy="248.4" rx="3.5" ry="2.7" transform="rotate(0 210.8 248.4)" stroke="#1c1c1c" stroke-width="1.1" fill="#fff"/>
<line x1="208.2" y1="247.0" x2="213.4" y2="247.0" stroke="#1c1c1c" stroke-width="0.5" />
<path d="M196.3,228.2 L196.3,248.3 L206.8,248.3" stroke="#1c1c1c" stroke-width="0.7" fill="none" stroke-linejoin="round" stroke-linecap="round" />
<line x1="199.6" y1="225.6" x2="208.4" y2="229.6" stroke="#1c1c1c" stroke-width="0.5" />
<text x="189.2" y="256.7" font-size="9.9" text-anchor="middle" fill="#222" stroke="#222" stroke-width="0.15">17</text>
<g transform="translate(230.0 234.8)">
<ellipse cx="1.6" cy="-0.6" rx="4.7" ry="6.6" fill="#fff" stroke="#111" stroke-width="3.2"/>
<path d="M3.4,-5.6 C5.8,-4.2 5.8,3 3.4,5" fill="none" stroke="#fff" stroke-width="0.7"/>
<path d="M-6,-3 L-1.6,-4.6 L-1.2,6.4 L-5.6,7.8 Z" fill="#fff" stroke="#111" stroke-width="1.7" stroke-linejoin="round"/>
<path d="M-1.4,-1.4 C1.2,-2 2.2,1.2 0.2,2.8" fill="none" stroke="#111" stroke-width="1.5"/>
<path d="M-4.4,3.6 L-2.6,3" fill="none" stroke="#111" stroke-width="1.2"/>
</g>
<line x1="234.2" y1="223.0" x2="234.2" y2="227.6" stroke="#1c1c1c" stroke-width="0.7" />
<text x="234.2" y="221.8" font-size="9.9" text-anchor="middle" fill="#222" stroke="#222" stroke-width="0.15">13</text>
<g transform="translate(245.0 245.8) rotate(-160.5)">
<rect x="2" y="-1.5" width="8.2" height="3.0" rx="1.2" fill="#fff" stroke="#1c1c1c" stroke-width="1.0"/>
<line x1="4.6" y1="0" x2="9.4" y2="0" stroke="#666" stroke-width="1.8" stroke-dasharray="0.7 0.8"/>
<ellipse cx="2.4" cy="0" rx="1.5" ry="4.0" fill="#fff" stroke="#1c1c1c" stroke-width="1.1"/>
<ellipse cx="0" cy="0" rx="2.975" ry="3.5" fill="#fff" stroke="#1c1c1c" stroke-width="1.4"/>
<path d="M-1.2,-1.575 L1,-1.575 M-1.6,1.4000000000000001 L0.6,1.4000000000000001" stroke="#333" stroke-width="0.7" fill="none"/>
</g>
<text x="234.2" y="256.1" font-size="9.9" text-anchor="middle" fill="#222" stroke="#222" stroke-width="0.15">16</text>
<g transform="translate(181.0 291.6) rotate(0) scale(1.0)">
<path d="M-2.5,-6.2 L8.5,-3.4 C10.8,-2.6 11.2,0.6 9.6,1.8 L8,2.6 L-0.5,0.6 Z" fill="#fff" stroke="#111" stroke-width="1.8" stroke-linejoin="round"/>
<path d="M0.8,1.4 L8.6,3.2 L10.4,1.4" fill="none" stroke="#111" stroke-width="2.2" stroke-linejoin="round"/>
<ellipse cx="-3.2" cy="0.4" rx="3.9" ry="4.9" transform="rotate(-15 -3.2 0.4)" fill="#fff" stroke="#111" stroke-width="2.2"/>
<path d="M0.6,-4.8 C2.2,-2.5 2.2,1 0.6,3.6" fill="none" stroke="#111" stroke-width="1.6"/>
</g>
<line x1="166.0" y1="291.0" x2="173.5" y2="291.0" stroke="#1c1c1c" stroke-width="0.8" />
<text x="159.3" y="294.5" font-size="9.9" text-anchor="middle" fill="#222" stroke="#222" stroke-width="0.15">13</text>
<line x1="186.8" y1="297" x2="186.8" y2="317" stroke="#1c1c1c" stroke-width="3.4"/>
<line x1="186.8" y1="297.8" x2="186.8" y2="316" stroke="#fff" stroke-width="1.5"/>
<ellipse cx="186.8" cy="318.6" rx="2.7" ry="2.2" transform="rotate(0 186.8 318.6)" stroke="#1c1c1c" stroke-width="1.5" fill="#fff"/>
<line x1="175.0" y1="311.0" x2="184.8" y2="311.0" stroke="#1c1c1c" stroke-width="0.8" />
<text x="168.7" y="315.0" font-size="9.9" text-anchor="middle" fill="#222" stroke="#222" stroke-width="0.15">12</text>
<text x="253.3" y="67.5" font-size="9.9" text-anchor="middle" fill="#222" stroke="#222" stroke-width="0.15">10</text>
<line x1="253.3" y1="70.0" x2="253.3" y2="76.8" stroke="#1c1c1c" stroke-width="0.8" />
<path d="M247.8,88.5 L247.8,76.8 L253.3,76.8 L258.9,82.3 L258.9,92.3" stroke="#1c1c1c" stroke-width="0.8" fill="none" stroke-linejoin="round" stroke-linecap="round" />
<ellipse cx="247.5" cy="93.2" rx="4.0" ry="4.5" transform="rotate(-20 247.5 93.2)" stroke="#262626" stroke-width="2.1" fill="#fff"/>
<ellipse cx="247.9" cy="93.4" rx="1.68" ry="2.0700000000000003" transform="rotate(-20 247.9 93.4)" stroke="#333" stroke-width="0.8" fill="#fff"/>
<ellipse cx="258.0" cy="97.2" rx="4.0" ry="4.5" transform="rotate(-20 258.0 97.2)" stroke="#262626" stroke-width="2.1" fill="#fff"/>
<ellipse cx="258.4" cy="97.4" rx="1.68" ry="2.0700000000000003" transform="rotate(-20 258.4 97.4)" stroke="#333" stroke-width="0.8" fill="#fff"/>
<text x="287.3" y="52.5" font-size="9.9" text-anchor="middle" fill="#222" stroke="#222" stroke-width="0.15">10</text>
<line x1="287.3" y1="55.0" x2="287.3" y2="63.0" stroke="#1c1c1c" stroke-width="0.8" />
<path d="M282.3,72.5 L282.3,63.0 L287.3,63.0 L292.4,67.6 L292.4,76.5" stroke="#1c1c1c" stroke-width="0.8" fill="none" stroke-linejoin="round" stroke-linecap="round" />
<ellipse cx="283.0" cy="77.5" rx="4.0" ry="4.5" transform="rotate(-20 283.0 77.5)" stroke="#262626" stroke-width="2.1" fill="#fff"/>
<ellipse cx="283.4" cy="77.7" rx="1.68" ry="2.0700000000000003" transform="rotate(-20 283.4 77.7)" stroke="#333" stroke-width="0.8" fill="#fff"/>
<ellipse cx="293.3" cy="82.2" rx="4.0" ry="4.5" transform="rotate(-20 293.3 82.2)" stroke="#262626" stroke-width="2.1" fill="#fff"/>
<ellipse cx="293.7" cy="82.4" rx="1.68" ry="2.0700000000000003" transform="rotate(-20 293.7 82.4)" stroke="#333" stroke-width="0.8" fill="#fff"/>
<text x="316.7" y="41.8" font-size="9.9" text-anchor="middle" fill="#222" stroke="#222" stroke-width="0.15">28</text>
<line x1="316.7" y1="44.5" x2="316.7" y2="51.0" stroke="#1c1c1c" stroke-width="0.8" />
<path d="M306.6,62.0 L306.6,51.0 L316.7,51.0 L320.3,56.6 L320.3,66.5" stroke="#1c1c1c" stroke-width="0.8" fill="none" stroke-linejoin="round" stroke-linecap="round" />
<g transform="translate(296.0 72.0) rotate(-22.1)">
<rect x="0" y="-3.0" width="14.4" height="6.0" rx="1.2" fill="#fff" stroke="#1c1c1c" stroke-width="1.1"/>
<rect x="0.3" y="-2.7" width="10.8" height="5.4" rx="1.2" fill="#3a3a3a"/>
<line x1="1" y1="0" x2="10.8" y2="0" stroke="#b5b5b5" stroke-width="4.4" stroke-dasharray="0.8 1.0"/>
<rect x="14.4" y="-4.1" width="6.2" height="8.2" rx="1.6" fill="#fff" stroke="#1c1c1c" stroke-width="1.3"/>
<line x1="15.2" y1="-1.6999999999999997" x2="20.0" y2="-1.6999999999999997" stroke="#333" stroke-width="0.7"/>
<line x1="15.2" y1="1.8999999999999995" x2="20.0" y2="1.8999999999999995" stroke="#333" stroke-width="0.6"/>
</g>
<g transform="translate(319.0 71.2) rotate(-22.8)">
<rect x="0" y="-3.0" width="14.4" height="6.0" rx="1.2" fill="#fff" stroke="#1c1c1c" stroke-width="1.1"/>
<rect x="0.3" y="-2.7" width="10.8" height="5.4" rx="1.2" fill="#3a3a3a"/>
<line x1="1" y1="0" x2="10.8" y2="0" stroke="#b5b5b5" stroke-width="4.4" stroke-dasharray="0.8 1.0"/>
<rect x="14.4" y="-4.1" width="6.2" height="8.2" rx="1.6" fill="#fff" stroke="#1c1c1c" stroke-width="1.3"/>
<line x1="15.2" y1="-1.6999999999999997" x2="20.0" y2="-1.6999999999999997" stroke="#333" stroke-width="0.7"/>
<line x1="15.2" y1="1.8999999999999995" x2="20.0" y2="1.8999999999999995" stroke="#333" stroke-width="0.6"/>
</g>
<line x1="299.5" y1="79.5" x2="316.0" y2="73.0" stroke="#1c1c1c" stroke-width="0.6" />
<path d="M267,91 L267,104" stroke="#1c1c1c" stroke-width="8.0" fill="none" stroke-linecap="butt" stroke-linejoin="round"/>
<path d="M267,91 L267,104" stroke="#fff" stroke-width="5.7" fill="none" stroke-linecap="butt" stroke-linejoin="round"/>
<path d="M277,95 L277.3,107.5" stroke="#1c1c1c" stroke-width="8.0" fill="none" stroke-linecap="butt" stroke-linejoin="round"/>
<path d="M277,95 L277.3,107.5" stroke="#fff" stroke-width="5.7" fill="none" stroke-linecap="butt" stroke-linejoin="round"/>
<line x1="263.5" y1="103.5" x2="270.5" y2="103.5" stroke="#1c1c1c" stroke-width="0.7" />
<line x1="273.7" y1="107.0" x2="280.8" y2="107.0" stroke="#1c1c1c" stroke-width="0.7" />
<ellipse cx="266.2" cy="84.2" rx="5.9" ry="5.428000000000001" transform="rotate(0 266.2 84.2)" stroke="#1c1c1c" stroke-width="1.3" fill="#fff"/>
<ellipse cx="265.6" cy="83.9" rx="2.7" ry="3.105" transform="rotate(-20 265.6 83.9)" stroke="#1c1c1c" stroke-width="1.0" fill="#fff"/>
<ellipse cx="276.8" cy="88.8" rx="5.9" ry="5.428000000000001" transform="rotate(0 276.8 88.8)" stroke="#1c1c1c" stroke-width="1.3" fill="#fff"/>
<ellipse cx="276.2" cy="88.5" rx="2.7" ry="3.105" transform="rotate(-20 276.2 88.5)" stroke="#1c1c1c" stroke-width="1.0" fill="#fff"/>
<text x="288.2" y="110.7" font-size="9.9" text-anchor="middle" fill="#222" stroke="#222" stroke-width="0.15">29</text>
<line x1="288.2" y1="113.5" x2="288.2" y2="122.0" stroke="#1c1c1c" stroke-width="0.8" />
<text x="317.2" y="114.1" font-size="9.9" text-anchor="middle" fill="#222" stroke="#222" stroke-width="0.15">26</text>
<line x1="317.0" y1="117.6" x2="317.0" y2="127.0" stroke="#1c1c1c" stroke-width="0.8" />
<g transform="translate(310.8 136.3) rotate(-38)">
<rect x="-2.4" y="-3.8" width="4.8" height="7.6" rx="1.8" fill="#fff" stroke="#1c1c1c" stroke-width="1.5"/>
</g>
<g transform="translate(314.0 133.8) rotate(-38)">
<rect x="-2.4" y="-3.8" width="4.8" height="7.6" rx="1.8" fill="#fff" stroke="#1c1c1c" stroke-width="1.5"/>
</g>
<g transform="translate(317.2 131.3) rotate(-38)">
<rect x="-2.4" y="-3.8" width="4.8" height="7.6" rx="1.8" fill="#fff" stroke="#1c1c1c" stroke-width="1.5"/>
</g>
<g transform="translate(367.0 124.5) rotate(90.0)">
<rect x="3" y="-1.9" width="6.5" height="3.8" rx="1.2" fill="#fff" stroke="#1c1c1c" stroke-width="1.0"/>
<line x1="5" y1="0" x2="8.7" y2="0" stroke="#777" stroke-width="2.4" stroke-dasharray="0.7 0.8"/>
<rect x="2.0" y="-4.2" width="1.8" height="8.4" rx="0.9" fill="#fff" stroke="#1c1c1c" stroke-width="1.0"/>
<rect x="-2.6" y="-3.1" width="4.8" height="6.2" rx="1.1" fill="#fff" stroke="#1c1c1c" stroke-width="1.2"/>
<line x1="-2.2" y1="-1.1" x2="1.8" y2="-1.1" stroke="#333" stroke-width="0.6"/>
</g>
<line x1="372.0" y1="125.5" x2="377.0" y2="125.5" stroke="#1c1c1c" stroke-width="0.8" />
<text x="386.3" y="129.3" font-size="9.9" text-anchor="middle" fill="#222" stroke="#222" stroke-width="0.15">24</text>
<line x1="367.0" y1="135.0" x2="367.0" y2="149.5" stroke="#1c1c1c" stroke-width="0.6" />
<text x="371.2" y="35.5" font-size="9.9" text-anchor="middle" fill="#222" stroke="#222" stroke-width="0.15">16</text>
<line x1="378.5" y1="32.0" x2="384.7" y2="32.0" stroke="#1c1c1c" stroke-width="0.8" />
<g transform="translate(389.7 27.6) rotate(90.0)">
<rect x="3" y="-2.0" width="7.2" height="4.0" rx="1.2" fill="#fff" stroke="#1c1c1c" stroke-width="1.0"/>
<line x1="5" y1="0" x2="9.4" y2="0" stroke="#777" stroke-width="2.6" stroke-dasharray="0.7 0.8"/>
<rect x="2.0" y="-4.4" width="1.8" height="8.8" rx="0.9" fill="#fff" stroke="#1c1c1c" stroke-width="1.0"/>
<rect x="-2.6" y="-3.3" width="4.8" height="6.6" rx="1.1" fill="#fff" stroke="#1c1c1c" stroke-width="1.2"/>
<line x1="-2.2" y1="-1.2999999999999998" x2="1.8" y2="-1.2999999999999998" stroke="#333" stroke-width="0.6"/>
</g>
<line x1="389.7" y1="38.5" x2="389.7" y2="69.0" stroke="#1c1c1c" stroke-width="0.5" />
<ellipse cx="402.6" cy="44.3" rx="4.0" ry="6.3" transform="rotate(8 402.6 44.3)" stroke="#111" stroke-width="1.6" fill="#fff"/>
<path d="M398,39.2 L402.4,38 M398.6,53.2 L403.4,50.6" stroke="#111" stroke-width="1.4" fill="none" stroke-linejoin="round" stroke-linecap="round" />
<ellipse cx="397.8" cy="46.6" rx="4.6" ry="6.4" transform="rotate(8 397.8 46.6)" stroke="#111" stroke-width="2.6" fill="#fff"/>
<path d="M384.7,44 L391,41.2 L398.2,45.5 L391.8,49 Z" stroke="#111" stroke-width="1.3" fill="#fff" stroke-linejoin="round" stroke-linecap="round" />
<path d="M384.7,44 L384.7,45.6 L391.8,50.6 L398.2,47.1 L398.2,45.5 M391.8,49 L391.8,50.6" stroke="#111" stroke-width="1.0" fill="none" stroke-linejoin="round" stroke-linecap="round" />
<ellipse cx="391.2" cy="44.8" rx="1.5" ry="0.9" transform="rotate(-15 391.2 44.8)" stroke="#1c1c1c" stroke-width="0.8" fill="none"/>
<line x1="407.4" y1="45.0" x2="412.3" y2="45.0" stroke="#1c1c1c" stroke-width="0.8" />
<text x="418.2" y="48.7" font-size="9.9" text-anchor="middle" fill="#222" stroke="#222" stroke-width="0.15">13</text>
<path d="M376.5,53.8 L383,50.8 C385.5,50.6 387,52.5 387.2,54.6 L395.4,57.4 L395.4,61.8 L390.4,64 L384.2,61.2 L381,64.6 L377,66.6 Z" stroke="#111" stroke-width="1.6" fill="#fff" stroke-linejoin="round" stroke-linecap="round" />
<path d="M387.2,54.6 C387.6,57.4 386.6,60 384.2,61.2 M384.2,61.2 L384.2,57.6 L390.4,60 L395.4,57.6 M390.4,60 L390.4,64" stroke="#111" stroke-width="1.2" fill="none" stroke-linejoin="round" stroke-linecap="round" />
<ellipse cx="376.4" cy="60.2" rx="3.7" ry="6.4" transform="rotate(8 376.4 60.2)" stroke="#111" stroke-width="2.2" fill="#fff"/>
<ellipse cx="390.2" cy="57.6" rx="1.4" ry="0.8" transform="rotate(-10 390.2 57.6)" stroke="#1c1c1c" stroke-width="0.7" fill="none"/>
<line x1="396.7" y1="61.0" x2="404.5" y2="61.0" stroke="#1c1c1c" stroke-width="0.8" />
<text x="410.4" y="64.7" font-size="9.9" text-anchor="middle" fill="#222" stroke="#222" stroke-width="0.15">13</text>
<path d="M385.2,70.4 L385.2,74 C385.2,76.6 394.8,76.6 394.8,74 L394.8,70.4" stroke="#1c1c1c" stroke-width="1.2" fill="#fff" stroke-linejoin="round" stroke-linecap="round" />
<ellipse cx="390.0" cy="70.4" rx="4.8" ry="2.3" transform="rotate(0 390.0 70.4)" stroke="#1c1c1c" stroke-width="1.2" fill="#fff"/>
<ellipse cx="390.0" cy="70.4" rx="2.1" ry="1.0" transform="rotate(0 390.0 70.4)" stroke="#1c1c1c" stroke-width="0.8" fill="none"/>
<text x="371.2" y="76.5" font-size="9.9" text-anchor="middle" fill="#222" stroke="#222" stroke-width="0.15">17</text>
<line x1="378.3" y1="73.0" x2="384.0" y2="73.0" stroke="#1c1c1c" stroke-width="0.8" />
<text x="458.2" y="70.5" font-size="9.9" text-anchor="middle" fill="#222" stroke="#222" stroke-width="0.15">27</text>
<path d="M470,89.2 C464,89.8 457.5,87.8 456.8,84.2 C456.2,80 462,76.6 472,76.3 C482,76 489,79.2 488.8,83.2 C488.6,86 486,88.2 483.5,89.2" stroke="#1c1c1c" stroke-width="3.0" fill="none" stroke-linejoin="round" stroke-linecap="round" />
<path d="M470,89.2 C464,89.8 457.5,87.8 456.8,84.2 C456.2,80 462,76.6 472,76.3 C482,76 489,79.2 488.8,83.2 C488.6,86 486,88.2 483.5,89.2" stroke="#fff" stroke-width="1.0" fill="none" stroke-linejoin="round" stroke-linecap="round" />
<path d="M469.5,88.2 L471.2,90.4" stroke="#1c1c1c" stroke-width="1.0" fill="none" stroke-linejoin="round" stroke-linecap="round" />
<rect x="477.9" y="84.6" width="4.6" height="6.6" rx="1.6" fill="#fff" stroke="#1c1c1c" stroke-width="1.2" transform="rotate(-8 480 88)"/>
<line x1="479.4" y1="86.2" x2="479.8" y2="90.0" stroke="#1c1c1c" stroke-width="0.6" />
<text x="422.0" y="91.5" font-size="9.9" text-anchor="middle" fill="#222" stroke="#222" stroke-width="0.15">10</text>
<line x1="404.0" y1="91.0" x2="428.0" y2="99.0" stroke="#1c1c1c" stroke-width="0.7" />
<line x1="404.0" y1="91.0" x2="404.0" y2="95.6" stroke="#1c1c1c" stroke-width="0.7" />
<line x1="428.0" y1="99.0" x2="428.0" y2="105.0" stroke="#1c1c1c" stroke-width="0.7" />
<line x1="422.0" y1="93.6" x2="422.0" y2="97.0" stroke="#1c1c1c" stroke-width="0.7" />
<ellipse cx="402.5" cy="99.3" rx="3.5" ry="4.3" transform="rotate(-15 402.5 99.3)" stroke="#262626" stroke-width="2.1" fill="#fff"/>
<ellipse cx="402.9" cy="99.5" rx="1.47" ry="1.978" transform="rotate(-15 402.9 99.5)" stroke="#333" stroke-width="0.8" fill="#fff"/>
<ellipse cx="425.0" cy="110.0" rx="3.5" ry="4.3" transform="rotate(-15 425.0 110.0)" stroke="#262626" stroke-width="2.1" fill="#fff"/>
<ellipse cx="425.4" cy="110.2" rx="1.47" ry="1.978" transform="rotate(-15 425.4 110.2)" stroke="#333" stroke-width="0.8" fill="#fff"/>
<ellipse cx="413.3" cy="105.8" rx="6.3" ry="5.796" transform="rotate(0 413.3 105.8)" stroke="#1c1c1c" stroke-width="1.3" fill="#fff"/>
<ellipse cx="412.7" cy="105.5" rx="2.7" ry="3.105" transform="rotate(-20 412.7 105.5)" stroke="#1c1c1c" stroke-width="1.0" fill="#fff"/>
<path d="M414,111.5 L413,123" stroke="#1c1c1c" stroke-width="7.8" fill="none" stroke-linecap="butt" stroke-linejoin="round"/>
<path d="M414,111.5 L413,123" stroke="#fff" stroke-width="5.5" fill="none" stroke-linecap="butt" stroke-linejoin="round"/>
<g transform="translate(430.5 111.6) rotate(24.0)">
<rect x="0" y="-3.3" width="14.8" height="6.6" rx="1.2" fill="#fff" stroke="#1c1c1c" stroke-width="1.1"/>
<rect x="0.3" y="-3.0" width="11.1" height="6.0" rx="1.2" fill="#3a3a3a"/>
<line x1="1" y1="0" x2="11.1" y2="0" stroke="#b5b5b5" stroke-width="5.0" stroke-dasharray="0.8 1.0"/>
<rect x="14.8" y="-4.3" width="6.2" height="8.6" rx="1.6" fill="#fff" stroke="#1c1c1c" stroke-width="1.3"/>
<line x1="15.6" y1="-1.9" x2="20.4" y2="-1.9" stroke="#333" stroke-width="0.7"/>
<line x1="15.6" y1="2.0999999999999996" x2="20.4" y2="2.0999999999999996" stroke="#333" stroke-width="0.6"/>
</g>
<text x="435.0" y="136.0" font-size="9.9" text-anchor="middle" fill="#222" stroke="#222" stroke-width="0.15">28</text>
<line x1="434.5" y1="127.0" x2="434.5" y2="120.0" stroke="#1c1c1c" stroke-width="0.8" />
<text x="429.5" y="146.1" font-size="9.9" text-anchor="middle" fill="#222" stroke="#222" stroke-width="0.15">26</text>
<line x1="429.8" y1="149.0" x2="429.8" y2="156.4" stroke="#1c1c1c" stroke-width="0.8" />
<path d="M426.6,158.2 C427.6,156.6 431.4,156.8 433,158.6 L432.6,165.2 C430.8,166.8 427.4,166.4 426.2,164.6 Z" stroke="#1c1c1c" stroke-width="1.1" fill="#fff" stroke-linejoin="round" stroke-linecap="round" />
<text x="454.6" y="162.5" font-size="9.9" text-anchor="middle" fill="#222" stroke="#222" stroke-width="0.15">26</text>
<line x1="454.2" y1="165.4" x2="454.2" y2="172.4" stroke="#1c1c1c" stroke-width="0.8" />
<path d="M449.6,174.4 C451.4,172.4 456,172.6 458,175 L457.4,181.2 C455.2,183 451,182.6 449.2,180.2 Z" stroke="#1c1c1c" stroke-width="1.1" fill="#fff" stroke-linejoin="round" stroke-linecap="round" />
<g transform="translate(465.0 166.0) rotate(90.0)">
<rect x="3" y="-1.9" width="6.0" height="3.8" rx="1.2" fill="#fff" stroke="#1c1c1c" stroke-width="1.0"/>
<line x1="5" y1="0" x2="8.2" y2="0" stroke="#777" stroke-width="2.4" stroke-dasharray="0.7 0.8"/>
<rect x="2.0" y="-4.2" width="1.8" height="8.4" rx="0.9" fill="#fff" stroke="#1c1c1c" stroke-width="1.0"/>
<rect x="-2.6" y="-3.1" width="4.8" height="6.2" rx="1.1" fill="#fff" stroke="#1c1c1c" stroke-width="1.2"/>
<line x1="-2.2" y1="-1.1" x2="1.8" y2="-1.1" stroke="#333" stroke-width="0.6"/>
</g>
<line x1="470.0" y1="167.0" x2="475.0" y2="167.0" stroke="#1c1c1c" stroke-width="0.8" />
<text x="485.0" y="170.8" font-size="9.9" text-anchor="middle" fill="#222" stroke="#222" stroke-width="0.15">24</text>
<line x1="465.0" y1="176.0" x2="465.0" y2="206.0" stroke="#1c1c1c" stroke-width="0.6" />
<line x1="440.0" y1="185.0" x2="443.0" y2="187.0" stroke="#1c1c1c" stroke-width="0.6" />
<circle cx="421.5" cy="170.0" r="0.6" stroke="#1c1c1c" stroke-width="0.6" fill="none"/>
<g transform="translate(473.0 221.5)">
<ellipse cx="1.6" cy="-0.6" rx="4.7" ry="6.6" fill="#fff" stroke="#111" stroke-width="3.2"/>
<path d="M3.4,-5.6 C5.8,-4.2 5.8,3 3.4,5" fill="none" stroke="#fff" stroke-width="0.7"/>
<path d="M-6,-3 L-1.6,-4.6 L-1.2,6.4 L-5.6,7.8 Z" fill="#fff" stroke="#111" stroke-width="1.7" stroke-linejoin="round"/>
<path d="M-1.4,-1.4 C1.2,-2 2.2,1.2 0.2,2.8" fill="none" stroke="#111" stroke-width="1.5"/>
<path d="M-4.4,3.6 L-2.6,3" fill="none" stroke="#111" stroke-width="1.2"/>
</g>
<g transform="translate(481.0 238.3)">
<ellipse cx="0.6" cy="3.2" rx="5" ry="4.9" fill="#fff" stroke="#111" stroke-width="3.0"/>
<path d="M-3.6,-2.6 L-4,-10.6 L2.6,-11.2 L3,-3.2 Z" fill="#111" stroke="#111" stroke-width="1.5" stroke-linejoin="round"/>
<path d="M0.6,-9.6 L0.9,-3.4" fill="none" stroke="#fff" stroke-width="1.3"/>
<path d="M-2.4,-0.6 C-3.4,1.6 -3.2,4.4 -1.6,6" fill="none" stroke="#111" stroke-width="1.4"/>
<path d="M3.9,0.6 C5.2,2.6 4.6,5.6 2.6,6.8" fill="none" stroke="#fff" stroke-width="0.7"/>
</g>
<text x="449.7" y="242.2" font-size="9.9" text-anchor="middle" fill="#222" stroke="#222" stroke-width="0.15">13</text>
<line x1="455.5" y1="238.5" x2="462.0" y2="238.5" stroke="#1c1c1c" stroke-width="0.8" />
<line x1="459.0" y1="230.0" x2="467.5" y2="243.7" stroke="#1c1c1c" stroke-width="0.7" />
<line x1="459.0" y1="230.0" x2="468.0" y2="230.0" stroke="#1c1c1c" stroke-width="0.7" />
<line x1="467.5" y1="243.7" x2="476.0" y2="243.7" stroke="#1c1c1c" stroke-width="0.7" />
<line x1="412.0" y1="205.0" x2="466.0" y2="226.0" stroke="#1c1c1c" stroke-width="0.5" />
<text x="499.3" y="215.5" font-size="9.9" text-anchor="middle" fill="#222" stroke="#222" stroke-width="0.15">16</text>
<line x1="499.5" y1="218.8" x2="499.5" y2="234.0" stroke="#1c1c1c" stroke-width="0.7" />
<g transform="translate(500.0 239.0) rotate(-157.7)">
<rect x="2" y="-1.5" width="7.7" height="3.0" rx="1.2" fill="#fff" stroke="#1c1c1c" stroke-width="1.0"/>
<line x1="4.6" y1="0" x2="8.9" y2="0" stroke="#666" stroke-width="1.8" stroke-dasharray="0.7 0.8"/>
<ellipse cx="2.4" cy="0" rx="1.5" ry="3.8" fill="#fff" stroke="#1c1c1c" stroke-width="1.1"/>
<ellipse cx="0" cy="0" rx="2.8049999999999997" ry="3.3" fill="#fff" stroke="#1c1c1c" stroke-width="1.4"/>
<path d="M-1.2,-1.4849999999999999 L1,-1.4849999999999999 M-1.6,1.32 L0.6,1.32" stroke="#333" stroke-width="0.7" fill="none"/>
</g>
<text x="433.3" y="244.8" font-size="9.9" text-anchor="middle" fill="#222" stroke="#222" stroke-width="0.15">16</text>
<line x1="432.5" y1="233.5" x2="440.0" y2="224.3" stroke="#1c1c1c" stroke-width="0.7" />
<g transform="translate(447.5 222.5) rotate(-157.6)">
<rect x="2" y="-1.5" width="7.2" height="3.0" rx="1.2" fill="#fff" stroke="#1c1c1c" stroke-width="1.0"/>
<line x1="4.6" y1="0" x2="8.4" y2="0" stroke="#666" stroke-width="1.8" stroke-dasharray="0.7 0.8"/>
<ellipse cx="2.4" cy="0" rx="1.5" ry="3.8" fill="#fff" stroke="#1c1c1c" stroke-width="1.1"/>
<ellipse cx="0" cy="0" rx="2.8049999999999997" ry="3.3" fill="#fff" stroke="#1c1c1c" stroke-width="1.4"/>
<path d="M-1.2,-1.4849999999999999 L1,-1.4849999999999999 M-1.6,1.32 L0.6,1.32" stroke="#333" stroke-width="0.7" fill="none"/>
</g>
<text x="456.6" y="265.5" font-size="9.9" text-anchor="middle" fill="#222" stroke="#222" stroke-width="0.15">13</text>
<line x1="456.6" y1="267.5" x2="456.6" y2="273.5" stroke="#1c1c1c" stroke-width="0.7" />
<g transform="translate(438.0 272.3) rotate(23.5)">
<rect x="2" y="-1.5" width="7.3" height="3.0" rx="1.2" fill="#fff" stroke="#1c1c1c" stroke-width="1.0"/>
<line x1="4.6" y1="0" x2="8.5" y2="0" stroke="#666" stroke-width="1.8" stroke-dasharray="0.7 0.8"/>
<ellipse cx="2.4" cy="0" rx="1.5" ry="3.8" fill="#fff" stroke="#1c1c1c" stroke-width="1.1"/>
<ellipse cx="0" cy="0" rx="2.8049999999999997" ry="3.3" fill="#fff" stroke="#1c1c1c" stroke-width="1.4"/>
<path d="M-1.2,-1.4849999999999999 L1,-1.4849999999999999 M-1.6,1.32 L0.6,1.32" stroke="#333" stroke-width="0.7" fill="none"/>
</g>
<text x="431.0" y="291.5" font-size="9.9" text-anchor="middle" fill="#222" stroke="#222" stroke-width="0.15">16</text>
<line x1="433.0" y1="283.0" x2="437.0" y2="277.5" stroke="#1c1c1c" stroke-width="0.7" />
<text x="486.0" y="275.5" font-size="9.9" text-anchor="middle" fill="#222" stroke="#222" stroke-width="0.15">17</text>
<line x1="486.0" y1="278.0" x2="486.0" y2="286.5" stroke="#1c1c1c" stroke-width="0.7" />
<circle cx="485.6" cy="291.0" r="3.5" stroke="#1c1c1c" stroke-width="1.1" fill="#fff"/>
<line x1="483.0" y1="289.5" x2="488.0" y2="292.5" stroke="#1c1c1c" stroke-width="0.6" />
<path d="M449.5,298 C448,295 450,292.5 453,291.5 L478,281.8 C481,281 483,283 482,285.5 C481.6,287 480.5,287.8 479,288.3 L454.5,301.5 C452,302.3 450.3,300.5 449.5,298 Z" stroke="#1c1c1c" stroke-width="1.2" fill="#fff" stroke-linejoin="round" stroke-linecap="round" />
<circle cx="453.7" cy="297.0" r="1.5" stroke="#1c1c1c" stroke-width="0.8" fill="none"/>
<ellipse cx="466.3" cy="291.2" rx="2.9" ry="1.3" transform="rotate(-24 466.3 291.2)" stroke="#1c1c1c" stroke-width="1.0" fill="none"/>
<ellipse cx="475.3" cy="287.0" rx="2.9" ry="1.3" transform="rotate(-24 475.3 287.0)" stroke="#1c1c1c" stroke-width="1.0" fill="none"/>
<text x="431.6" y="303.3" font-size="9.9" text-anchor="middle" fill="#222" stroke="#222" stroke-width="0.15">23</text>
<line x1="438.5" y1="299.8" x2="449.0" y2="299.8" stroke="#1c1c1c" stroke-width="0.8" />
<line x1="458.0" y1="282.0" x2="469.0" y2="285.5" stroke="#1c1c1c" stroke-width="0.6" />
<g transform="translate(452.2 282.6)">
<ellipse cx="0.6" cy="3.2" rx="5" ry="4.9" fill="#fff" stroke="#111" stroke-width="3.0"/>
<path d="M-3.6,-2.6 L-4,-10.6 L2.6,-11.2 L3,-3.2 Z" fill="#111" stroke="#111" stroke-width="1.5" stroke-linejoin="round"/>
<path d="M0.6,-9.6 L0.9,-3.4" fill="none" stroke="#fff" stroke-width="1.3"/>
<path d="M-2.4,-0.6 C-3.4,1.6 -3.2,4.4 -1.6,6" fill="none" stroke="#111" stroke-width="1.4"/>
<path d="M3.9,0.6 C5.2,2.6 4.6,5.6 2.6,6.8" fill="none" stroke="#fff" stroke-width="0.7"/>
</g>
<text x="300.0" y="209.3" font-size="9.9" text-anchor="middle" fill="#222" stroke="#222" stroke-width="0.15">10</text>
<line x1="300.0" y1="212.0" x2="300.0" y2="219.5" stroke="#1c1c1c" stroke-width="0.8" />
<line x1="264.0" y1="236.0" x2="321.0" y2="210.0" stroke="#1c1c1c" stroke-width="0.7" />
<line x1="264.0" y1="236.0" x2="264.0" y2="247.0" stroke="#1c1c1c" stroke-width="0.7" />
<line x1="286.4" y1="225.8" x2="286.4" y2="237.5" stroke="#1c1c1c" stroke-width="0.7" />
<line x1="321.0" y1="210.0" x2="321.0" y2="223.0" stroke="#1c1c1c" stroke-width="0.7" />
<ellipse cx="265.6" cy="252.0" rx="3.7" ry="4.5" transform="rotate(-15 265.6 252.0)" stroke="#262626" stroke-width="2.1" fill="#fff"/>
<ellipse cx="266.0" cy="252.2" rx="1.554" ry="2.0700000000000003" transform="rotate(-15 266.0 252.2)" stroke="#333" stroke-width="0.8" fill="#fff"/>
<ellipse cx="286.6" cy="243.0" rx="3.7" ry="4.5" transform="rotate(-15 286.6 243.0)" stroke="#262626" stroke-width="2.1" fill="#fff"/>
<ellipse cx="287.0" cy="243.2" rx="1.554" ry="2.0700000000000003" transform="rotate(-15 287.0 243.2)" stroke="#333" stroke-width="0.8" fill="#fff"/>
<ellipse cx="321.0" cy="228.3" rx="3.8" ry="4.5" transform="rotate(-15 321.0 228.3)" stroke="#262626" stroke-width="2.1" fill="#fff"/>
<ellipse cx="321.4" cy="228.5" rx="1.5959999999999999" ry="2.0700000000000003" transform="rotate(-15 321.4 228.5)" stroke="#333" stroke-width="0.8" fill="#fff"/>
<path d="M237,265.3 L249.5,258.2" stroke="#1c1c1c" stroke-width="8.0" fill="none" stroke-linecap="butt" stroke-linejoin="round"/>
<path d="M237,265.3 L249.5,258.2" stroke="#fff" stroke-width="5.7" fill="none" stroke-linecap="butt" stroke-linejoin="round"/>
<line x1="239.5" y1="260.5" x2="242.5" y2="266.5" stroke="#1c1c1c" stroke-width="0.7" />
<path d="M248.5,256.5 L253.5,252.8 L259.8,255 L260.6,263.6 L255.4,267.2 L249.6,264 Z" stroke="#1c1c1c" stroke-width="1.3" fill="#fff" stroke-linejoin="round" stroke-linecap="round" />
<path d="M253.5,252.8 L254.3,260.6 L249.6,264 M254.3,260.6 L260.6,263.6" stroke="#1c1c1c" stroke-width="0.8" fill="none" stroke-linejoin="round" stroke-linecap="round" />
<g transform="translate(255.0 239.3) rotate(90.0)">
<rect x="3" y="-1.9" width="8.5" height="3.8" rx="1.2" fill="#fff" stroke="#1c1c1c" stroke-width="1.0"/>
<line x1="5" y1="0" x2="10.7" y2="0" stroke="#777" stroke-width="2.4" stroke-dasharray="0.7 0.8"/>
<rect x="2.0" y="-4.2" width="1.8" height="8.4" rx="0.9" fill="#fff" stroke="#1c1c1c" stroke-width="1.0"/>
<rect x="-2.6" y="-3.1" width="4.8" height="6.2" rx="1.1" fill="#fff" stroke="#1c1c1c" stroke-width="1.2"/>
<line x1="-2.2" y1="-1.1" x2="1.8" y2="-1.1" stroke="#333" stroke-width="0.6"/>
</g>
<text x="255.0" y="233.5" font-size="9.9" text-anchor="middle" fill="#222" stroke="#222" stroke-width="0.15">11</text>
<path d="M274.6,254 L273.6,268" stroke="#1c1c1c" stroke-width="8.0" fill="none" stroke-linecap="butt" stroke-linejoin="round"/>
<path d="M274.6,254 L273.6,268" stroke="#fff" stroke-width="5.7" fill="none" stroke-linecap="butt" stroke-linejoin="round"/>
<line x1="270.0" y1="266.8" x2="277.4" y2="267.4" stroke="#1c1c1c" stroke-width="0.7" />
<ellipse cx="275.0" cy="248.0" rx="6.2" ry="5.704000000000001" transform="rotate(0 275.0 248.0)" stroke="#1c1c1c" stroke-width="1.3" fill="#fff"/>
<ellipse cx="274.4" cy="247.7" rx="2.7" ry="3.105" transform="rotate(-20 274.4 247.7)" stroke="#1c1c1c" stroke-width="1.0" fill="#fff"/>
<path d="M296.3,244.5 L295,259" stroke="#1c1c1c" stroke-width="8.0" fill="none" stroke-linecap="butt" stroke-linejoin="round"/>
<path d="M296.3,244.5 L295,259" stroke="#fff" stroke-width="5.7" fill="none" stroke-linecap="butt" stroke-linejoin="round"/>
<line x1="291.3" y1="257.6" x2="298.7" y2="258.4" stroke="#1c1c1c" stroke-width="0.7" />
<ellipse cx="297.0" cy="239.0" rx="6.2" ry="5.704000000000001" transform="rotate(0 297.0 239.0)" stroke="#1c1c1c" stroke-width="1.3" fill="#fff"/>
<ellipse cx="296.4" cy="238.7" rx="2.7" ry="3.105" transform="rotate(-20 296.4 238.7)" stroke="#1c1c1c" stroke-width="1.0" fill="#fff"/>
<g transform="translate(327.4 226.0) rotate(-24.0)">
<rect x="0" y="-3.0" width="22.1" height="6.0" rx="1.2" fill="#fff" stroke="#1c1c1c" stroke-width="1.1"/>
<rect x="0.3" y="-2.7" width="12.8" height="5.4" rx="1.2" fill="#3a3a3a"/>
<line x1="1" y1="0" x2="12.8" y2="0" stroke="#b5b5b5" stroke-width="4.4" stroke-dasharray="0.8 1.0"/>
<rect x="22.1" y="-4.4" width="6.6" height="8.8" rx="1.6" fill="#fff" stroke="#1c1c1c" stroke-width="1.3"/>
<line x1="22.9" y1="-2.0000000000000004" x2="28.1" y2="-2.0000000000000004" stroke="#333" stroke-width="0.7"/>
<line x1="22.9" y1="2.2" x2="28.1" y2="2.2" stroke="#333" stroke-width="0.6"/>
</g>
<text x="344.3" y="203.2" font-size="9.9" text-anchor="middle" fill="#222" stroke="#222" stroke-width="0.15">21</text>
<line x1="345.0" y1="205.6" x2="345.0" y2="213.2" stroke="#1c1c1c" stroke-width="0.8" />
<path d="M321.5,247.6 L334,243" stroke="#1c1c1c" stroke-width="8.0" fill="none" stroke-linecap="butt" stroke-linejoin="round"/>
<path d="M321.5,247.6 L334,243" stroke="#fff" stroke-width="5.7" fill="none" stroke-linecap="butt" stroke-linejoin="round"/>
<line x1="323.5" y1="243.3" x2="325.6" y2="249.4" stroke="#1c1c1c" stroke-width="0.7" />
<path d="M337.5,238 C343,234.5 350,235.5 351.8,240 L351.2,247.5 C349,250.5 345.5,250.5 344,248 L343.5,243.5 L339,244.5 Z" stroke="#1c1c1c" stroke-width="1.2" fill="#fff" stroke-linejoin="round" stroke-linecap="round" />
<path d="M343.5,243.5 C345,240.5 348.5,239.5 351.5,241" stroke="#1c1c1c" stroke-width="0.8" fill="none" stroke-linejoin="round" stroke-linecap="round" />
<text x="361.4" y="234.0" font-size="9.9" text-anchor="middle" fill="#222" stroke="#222" stroke-width="0.15">14</text>
<line x1="355.7" y1="232.2" x2="348.2" y2="235.9" stroke="#1c1c1c" stroke-width="0.7" />
<g transform="translate(360.4 244.8) rotate(-24.9)">
<rect x="0" y="-3.0" width="15.7" height="6.0" rx="1.2" fill="#fff" stroke="#1c1c1c" stroke-width="1.1"/>
<rect x="0.3" y="-2.7" width="9.4" height="5.4" rx="1.2" fill="#3a3a3a"/>
<line x1="1" y1="0" x2="9.4" y2="0" stroke="#b5b5b5" stroke-width="4.4" stroke-dasharray="0.8 1.0"/>
<rect x="15.7" y="-4.3" width="6.4" height="8.6" rx="1.6" fill="#fff" stroke="#1c1c1c" stroke-width="1.3"/>
<line x1="16.5" y1="-1.9" x2="21.5" y2="-1.9" stroke="#333" stroke-width="0.7"/>
<line x1="16.5" y1="2.0999999999999996" x2="21.5" y2="2.0999999999999996" stroke="#333" stroke-width="0.6"/>
</g>
<text x="377.8" y="222.0" font-size="9.9" text-anchor="middle" fill="#222" stroke="#222" stroke-width="0.15">15</text>
<line x1="377.8" y1="224.6" x2="377.8" y2="233.5" stroke="#1c1c1c" stroke-width="0.8" />
<ellipse cx="355.0" cy="247.5" rx="3.6" ry="4.4" transform="rotate(-15 355.0 247.5)" stroke="#262626" stroke-width="2.1" fill="#fff"/>
<ellipse cx="355.4" cy="247.7" rx="1.512" ry="2.0240000000000005" transform="rotate(-15 355.4 247.7)" stroke="#333" stroke-width="0.8" fill="#fff"/>
<ellipse cx="332.3" cy="256.5" rx="3.6" ry="4.4" transform="rotate(-15 332.3 256.5)" stroke="#262626" stroke-width="2.1" fill="#fff"/>
<ellipse cx="332.7" cy="256.7" rx="1.512" ry="2.0240000000000005" transform="rotate(-15 332.7 256.7)" stroke="#333" stroke-width="0.8" fill="#fff"/>
<ellipse cx="342.3" cy="252.2" rx="5.6" ry="5.152" transform="rotate(0 342.3 252.2)" stroke="#1c1c1c" stroke-width="1.3" fill="#fff"/>
<ellipse cx="341.7" cy="251.9" rx="2.5" ry="2.875" transform="rotate(-20 341.7 251.9)" stroke="#1c1c1c" stroke-width="1.0" fill="#fff"/>
<text x="352.0" y="275.7" font-size="9.9" text-anchor="middle" fill="#222" stroke="#222" stroke-width="0.15">3</text>
<line x1="351.2" y1="266.2" x2="351.2" y2="257.6" stroke="#1c1c1c" stroke-width="0.7" />
<path d="M327.2,260.5 L327.2,268.7 L337.7,267.3 L337.7,276.5" stroke="#1c1c1c" stroke-width="0.7" fill="none" stroke-linejoin="round" stroke-linecap="round" />
<line x1="334.0" y1="263.5" x2="355.7" y2="256.0" stroke="#1c1c1c" stroke-width="0.7" />
<line x1="355.7" y1="252.5" x2="355.7" y2="256.0" stroke="#1c1c1c" stroke-width="0.7" />
<text x="409.5" y="265.5" font-size="9.9" text-anchor="middle" fill="#222" stroke="#222" stroke-width="0.15">22</text>
<line x1="389.0" y1="262.0" x2="402.5" y2="262.0" stroke="#1c1c1c" stroke-width="0.8" />
<text x="236.0" y="322.5" font-size="9.9" text-anchor="middle" fill="#222" stroke="#222" stroke-width="0.15">20</text>
<line x1="242.5" y1="319.0" x2="251.5" y2="319.0" stroke="#1c1c1c" stroke-width="0.8" />
<text x="281.0" y="393.5" font-size="9.9" text-anchor="middle" fill="#222" stroke="#222" stroke-width="0.15">4</text>
<line x1="281.0" y1="383.5" x2="281.0" y2="373.0" stroke="#1c1c1c" stroke-width="0.8" />
<text x="329.0" y="379.8" font-size="9.9" text-anchor="middle" fill="#222" stroke="#222" stroke-width="0.15">5</text>
<line x1="329.0" y1="369.5" x2="329.0" y2="364.0" stroke="#1c1c1c" stroke-width="0.8" />
<g transform="translate(335.5 361.0) rotate(-156.4)">
<rect x="2" y="-1.5" width="6.7" height="3.0" rx="1.2" fill="#fff" stroke="#1c1c1c" stroke-width="1.0"/>
<line x1="4.6" y1="0" x2="7.9" y2="0" stroke="#666" stroke-width="1.8" stroke-dasharray="0.7 0.8"/>
<ellipse cx="2.4" cy="0" rx="1.5" ry="3.8" fill="#fff" stroke="#1c1c1c" stroke-width="1.1"/>
<ellipse cx="0" cy="0" rx="2.8049999999999997" ry="3.3" fill="#fff" stroke="#1c1c1c" stroke-width="1.4"/>
<path d="M-1.2,-1.4849999999999999 L1,-1.4849999999999999 M-1.6,1.32 L0.6,1.32" stroke="#333" stroke-width="0.7" fill="none"/>
</g>
<line x1="325.0" y1="356.0" x2="320.0" y2="353.5" stroke="#1c1c1c" stroke-width="0.5" />
<text x="381.3" y="300.0" font-size="9.9" text-anchor="middle" fill="#222" stroke="#222" stroke-width="0.15">3</text>
<line x1="381.3" y1="302.6" x2="381.3" y2="307.6" stroke="#1c1c1c" stroke-width="0.7" />
<line x1="366.7" y1="315.3" x2="384.4" y2="306.6" stroke="#1c1c1c" stroke-width="0.7" />
<line x1="366.7" y1="315.3" x2="363.0" y2="323.0" stroke="#1c1c1c" stroke-width="0.7" />
<line x1="384.6" y1="306.6" x2="384.6" y2="313.6" stroke="#1c1c1c" stroke-width="0.7" />
<text x="398.6" y="299.8" font-size="9.9" text-anchor="middle" fill="#222" stroke="#222" stroke-width="0.15">2</text>
<line x1="398.6" y1="302.4" x2="398.6" y2="310.0" stroke="#1c1c1c" stroke-width="0.8" />
<g transform="translate(390.6 316.8) rotate(-21.4)">
<rect x="0" y="-3.0" width="15.9" height="6.0" rx="1.2" fill="#fff" stroke="#1c1c1c" stroke-width="1.1"/>
<rect x="0.3" y="-2.7" width="9.5" height="5.4" rx="1.2" fill="#3a3a3a"/>
<line x1="1" y1="0" x2="9.5" y2="0" stroke="#b5b5b5" stroke-width="4.4" stroke-dasharray="0.8 1.0"/>
<rect x="15.9" y="-4.3" width="6.4" height="8.6" rx="1.6" fill="#fff" stroke="#1c1c1c" stroke-width="1.3"/>
<line x1="16.7" y1="-1.9" x2="21.7" y2="-1.9" stroke="#333" stroke-width="0.7"/>
<line x1="16.7" y1="2.0999999999999996" x2="21.7" y2="2.0999999999999996" stroke="#333" stroke-width="0.6"/>
</g>
<ellipse cx="362.0" cy="328.2" rx="3.6" ry="4.5" transform="rotate(-15 362.0 328.2)" stroke="#262626" stroke-width="2.1" fill="#fff"/>
<ellipse cx="362.4" cy="328.4" rx="1.512" ry="2.0700000000000003" transform="rotate(-15 362.4 328.4)" stroke="#333" stroke-width="0.8" fill="#fff"/>
<ellipse cx="385.0" cy="318.2" rx="3.6" ry="4.5" transform="rotate(-15 385.0 318.2)" stroke="#262626" stroke-width="2.1" fill="#fff"/>
<ellipse cx="385.4" cy="318.4" rx="1.512" ry="2.0700000000000003" transform="rotate(-15 385.4 318.4)" stroke="#333" stroke-width="0.8" fill="#fff"/>
<path d="M373,332 L381,327 L389.2,337 L388.6,341 L382,345 L378.4,343.6 L373,335 Z" stroke="#1c1c1c" stroke-width="1.3" fill="#fff" stroke-linejoin="round" stroke-linecap="round" />
<path d="M381,327 L385.2,338.6 L382,345 M385.2,338.6 L389.2,337 M376,336.2 L381.4,343" stroke="#1c1c1c" stroke-width="0.8" fill="none" stroke-linejoin="round" stroke-linecap="round" />
<ellipse cx="371.0" cy="323.2" rx="5.7" ry="5.244000000000001" transform="rotate(0 371.0 323.2)" stroke="#1c1c1c" stroke-width="1.3" fill="#fff"/>
<ellipse cx="370.4" cy="322.9" rx="2.6" ry="2.9899999999999998" transform="rotate(-20 370.4 322.9)" stroke="#1c1c1c" stroke-width="1.0" fill="#fff"/>
<text x="408.9" y="335.9" font-size="9.9" text-anchor="middle" fill="#222" stroke="#222" stroke-width="0.15">1</text>
<line x1="389.6" y1="332.0" x2="404.0" y2="332.0" stroke="#1c1c1c" stroke-width="0.8" />
<line x1="318.0" y1="351.5" x2="357.0" y2="332.0" stroke="#1c1c1c" stroke-width="0.5" />
<path d="M393.5,352.5 L386.5,343.5 L398.0,338.0 L406.5,348.5" stroke="#1c1c1c" stroke-width="0.7" fill="none" stroke-linejoin="round" stroke-linecap="round" />
<g transform="translate(396.3 357.5) rotate(-28) scale(1.18)">
<rect x="-2.2" y="-7.5" width="4.4" height="4" fill="#fff" stroke="#1c1c1c" stroke-width="1"/>
<rect x="-3.6" y="-4" width="7.2" height="2.2" rx="1" fill="#fff" stroke="#1c1c1c" stroke-width="1.1"/>
<rect x="-3.2" y="-1.8" width="6.4" height="3.6" rx="0.8" fill="#fff" stroke="#1c1c1c" stroke-width="1.2"/>
<rect x="-2.4" y="1.8" width="4.8" height="4.2" fill="#fff" stroke="#1c1c1c" stroke-width="1"/>
<line x1="-2.4" y1="3.2" x2="2.4" y2="3.2" stroke="#333" stroke-width="0.6"/><line x1="-2.4" y1="4.6" x2="2.4" y2="4.6" stroke="#333" stroke-width="0.6"/>
</g>
<text x="394.5" y="387.5" font-size="9.9" text-anchor="middle" fill="#222" stroke="#222" stroke-width="0.15">41</text>
<line x1="394.5" y1="377.5" x2="394.5" y2="365.0" stroke="#1c1c1c" stroke-width="0.8" />
<g transform="translate(412 355) rotate(-35) scale(1.15)">
<rect x="-2.0" y="-8" width="4" height="4" fill="#fff" stroke="#1c1c1c" stroke-width="1"/>
<rect x="-3.2" y="-4.4" width="6.4" height="3.6" rx="0.8" fill="#fff" stroke="#1c1c1c" stroke-width="1.2"/>
<rect x="-2.2" y="-0.8" width="4.4" height="3" fill="#fff" stroke="#1c1c1c" stroke-width="1"/>
<rect x="-1.5" y="2.2" width="3" height="5.6" rx="1.2" fill="#fff" stroke="#1c1c1c" stroke-width="1"/>
</g>
<text x="436.0" y="356.0" font-size="9.9" text-anchor="middle" fill="#222" stroke="#222" stroke-width="0.15">36</text>
<line x1="416.0" y1="352.5" x2="429.0" y2="352.5" stroke="#1c1c1c" stroke-width="0.8" />
<g transform="translate(402.6 366.2) rotate(-34)">
<path d="M-4.2,9.6 L-4.2,2.4 C-4.2,-1.6 4.2,-1.6 4.2,2.4 L4.2,9.6 Z" fill="#fff" stroke="#1c1c1c" stroke-width="1.3" stroke-linejoin="round"/>
<path d="M-4.2,3.4 C-2,5 2,5 4.2,3.4" fill="none" stroke="#1c1c1c" stroke-width="0.9"/>
<path d="M-4.2,9.6 C-2,11 2,11 4.2,9.6" fill="none" stroke="#1c1c1c" stroke-width="0.9"/>
</g>
<text x="444.5" y="404.5" font-size="9.9" text-anchor="middle" fill="#222" stroke="#222" stroke-width="0.15">42</text>
<line x1="426.5" y1="401.0" x2="437.5" y2="401.0" stroke="#1c1c1c" stroke-width="0.8" />
<path d="M419.8,432 L419.8,437 L419,438 L419,450 L420.4,451 L420.4,456 L427.6,456 L427.6,451 L429,450 L429,438 L428.2,437 L428.2,432 Z" stroke="#1c1c1c" stroke-width="1.1" fill="#fff" stroke-linejoin="round" stroke-linecap="round" />
<path d="M419,438 C422,439.3 426,439.3 429,438" stroke="#1c1c1c" stroke-width="0.9" fill="none" stroke-linejoin="round" stroke-linecap="round" />
<path d="M419,442 C422,443.3 426,443.3 429,442" stroke="#1c1c1c" stroke-width="0.9" fill="none" stroke-linejoin="round" stroke-linecap="round" />
<path d="M419,446 C422,447.3 426,447.3 429,446" stroke="#1c1c1c" stroke-width="0.9" fill="none" stroke-linejoin="round" stroke-linecap="round" />
<path d="M419,450.5 C422,451.8 426,451.8 429,450.5" stroke="#1c1c1c" stroke-width="0.9" fill="none" stroke-linejoin="round" stroke-linecap="round" />
<line x1="421.6" y1="433.0" x2="421.6" y2="437.0" stroke="#777" stroke-width="0.5" />
<path d="M419.7,462 L419.7,468 L418.7,468.5 L418.7,471 C421.3,472.8 425.3,472.8 427.90000000000003,471 L427.90000000000003,468.5 L426.90000000000003,468 L426.90000000000003,462 C424.8,460.8 421.8,460.8 419.7,462 Z" stroke="#1c1c1c" stroke-width="1.2" fill="#fff" stroke-linejoin="round" stroke-linecap="round" />
<path d="M418.7,468.5 C421.3,470.3 425.3,470.3 427.90000000000003,468.5" stroke="#1c1c1c" stroke-width="0.9" fill="none" stroke-linejoin="round" stroke-linecap="round" />
<line x1="422.1" y1="463.0" x2="422.1" y2="467.5" stroke="#333" stroke-width="1.6" />
<text x="447.6" y="470.9" font-size="9.9" text-anchor="middle" fill="#222" stroke="#222" stroke-width="0.15">43</text>
<line x1="429.5" y1="467.0" x2="441.0" y2="467.0" stroke="#1c1c1c" stroke-width="0.8" />
<text x="422.5" y="557.7" font-size="7.6" text-anchor="middle" fill="#222" stroke="#222" stroke-width="0.15">19946</text>
<text x="158.4" y="347.5" font-size="9.9" text-anchor="middle" fill="#222" stroke="#222" stroke-width="0.15">22A</text>
<line x1="160.0" y1="349.5" x2="170.0" y2="370.0" stroke="#1c1c1c" stroke-width="0.7" />
<text x="173.2" y="359.5" font-size="9.9" text-anchor="middle" fill="#222" stroke="#222" stroke-width="0.15">20A</text>
<line x1="173.0" y1="361.5" x2="177.0" y2="373.0" stroke="#1c1c1c" stroke-width="0.7" />
<ellipse cx="170.4" cy="372.6" rx="2.5" ry="3.3" transform="rotate(-20 170.4 372.6)" stroke="#1c1c1c" stroke-width="1.1" fill="none"/>
<ellipse cx="177.6" cy="376.0" rx="2.5" ry="3.3" transform="rotate(-20 177.6 376.0)" stroke="#1c1c1c" stroke-width="1.1" fill="none"/>
<g transform="translate(178.4 368.6) rotate(-22.7)">
<path d="M0,-1.8 L2.6,-2.8 L2.6,2.8 L0,1.8 Z" fill="#fff" stroke="#1c1c1c" stroke-width="1.0"/>
<rect x="2.6" y="-3.8" width="6.4" height="7.6" rx="1" fill="#2e2e2e" stroke="#1c1c1c" stroke-width="1"/>
<line x1="3.4" y1="0" x2="8.6" y2="0" stroke="#b0b0b0" stroke-width="5.2" stroke-dasharray="0.7 1.0"/>
<rect x="9" y="-4" width="13.3" height="8" rx="1" fill="#fff" stroke="#1c1c1c" stroke-width="1.2"/>
<line x1="10.4" y1="-1.8" x2="21.3" y2="-1.8" stroke="#777" stroke-width="0.5"/>
</g>
<g transform="translate(189.0 370.4) rotate(-22.3)">
<path d="M0,-1.8 L2.6,-2.8 L2.6,2.8 L0,1.8 Z" fill="#fff" stroke="#1c1c1c" stroke-width="1.0"/>
<rect x="2.6" y="-3.8" width="6.4" height="7.6" rx="1" fill="#2e2e2e" stroke="#1c1c1c" stroke-width="1"/>
<line x1="3.4" y1="0" x2="8.6" y2="0" stroke="#b0b0b0" stroke-width="5.2" stroke-dasharray="0.7 1.0"/>
<rect x="9" y="-4" width="13.7" height="8" rx="1" fill="#fff" stroke="#1c1c1c" stroke-width="1.2"/>
<line x1="10.4" y1="-1.8" x2="21.7" y2="-1.8" stroke="#777" stroke-width="0.5"/>
</g>
<path d="M163.6,377.0 L163.6,388.0 L219.0,366.0 L219.0,418.5 L186.0,432.5" stroke="#1c1c1c" stroke-width="0.8" fill="none" stroke-linejoin="round" stroke-linecap="round" />
<path d="M169.6,380.0 L169.6,391.0 L229.6,368.0 L229.6,424.0 L187.5,442.5" stroke="#1c1c1c" stroke-width="0.8" fill="none" stroke-linejoin="round" stroke-linecap="round" />
<text x="194.0" y="392.1" font-size="9.9" text-anchor="middle" fill="#222" stroke="#222" stroke-width="0.15">31</text>
<line x1="200.3" y1="388.6" x2="204.5" y2="388.6" stroke="#1c1c1c" stroke-width="0.7" />
<g transform="translate(201.0 397.0) rotate(-40.6)">
<rect x="0" y="-2.9" width="12.9" height="5.8" rx="1.2" fill="#fff" stroke="#1c1c1c" stroke-width="1.1"/>
<rect x="0.3" y="-2.6" width="10.3" height="5.2" rx="1.2" fill="#3a3a3a"/>
<line x1="1" y1="0" x2="10.3" y2="0" stroke="#b5b5b5" stroke-width="4.199999999999999" stroke-dasharray="0.8 1.0"/>
<rect x="12.9" y="-4.0" width="5.6" height="8.0" rx="1.6" fill="#fff" stroke="#1c1c1c" stroke-width="1.3"/>
<line x1="13.7" y1="-1.6" x2="17.9" y2="-1.6" stroke="#333" stroke-width="0.7"/>
<line x1="13.7" y1="1.7999999999999998" x2="17.9" y2="1.7999999999999998" stroke="#333" stroke-width="0.6"/>
</g>
<text x="172.4" y="403.1" font-size="9.9" text-anchor="middle" fill="#222" stroke="#222" stroke-width="0.15">32</text>
<path d="M178.5,399.6 L181.0,399.6 L180.5,411.5" stroke="#1c1c1c" stroke-width="0.7" fill="none" stroke-linejoin="round" stroke-linecap="round" />
<line x1="181.0" y1="399.6" x2="191.0" y2="400.0" stroke="#1c1c1c" stroke-width="0.7" />
<ellipse cx="195.0" cy="401.4" rx="3.3" ry="3.0" transform="rotate(-20 195.0 401.4)" stroke="#262626" stroke-width="2.1" fill="#fff"/>
<ellipse cx="195.4" cy="401.6" rx="1.386" ry="1.3800000000000001" transform="rotate(-20 195.4 401.6)" stroke="#333" stroke-width="0.8" fill="#fff"/>
<ellipse cx="180.0" cy="416.0" rx="3.7" ry="2.9" transform="rotate(-20 180.0 416.0)" stroke="#262626" stroke-width="2.1" fill="#fff"/>
<ellipse cx="180.4" cy="416.2" rx="1.554" ry="1.334" transform="rotate(-20 180.4 416.2)" stroke="#333" stroke-width="0.8" fill="#fff"/>
<path d="M185.6,409 C185,405.5 189,402.6 192.4,404.6 L198.6,414.2 L199.6,419.6 L196.4,423 L192.2,422 L187.2,415 Z" stroke="#1c1c1c" stroke-width="1.3" fill="#fff" stroke-linejoin="round" stroke-linecap="round" />
<path d="M192.8,415.6 L198.6,414.2 M192.8,415.6 L196.4,423 M192.8,415.6 L188,413.6 M194.8,419 L199,417.4" stroke="#1c1c1c" stroke-width="0.8" fill="none" stroke-linejoin="round" stroke-linecap="round" />
<ellipse cx="189.6" cy="408.0" rx="1.3" ry="2.1" transform="rotate(-30 189.6 408.0)" stroke="#111" stroke-width="1.4" fill="#111"/>
<line x1="191.6" y1="406.4" x2="195.4" y2="412.6" stroke="#1c1c1c" stroke-width="0.6" />
<text x="210.4" y="409.7" font-size="9.9" text-anchor="middle" fill="#222" stroke="#222" stroke-width="0.15">30</text>
<line x1="206.0" y1="410.0" x2="199.5" y2="415.0" stroke="#1c1c1c" stroke-width="0.7" />
<line x1="197.5" y1="423.0" x2="209.0" y2="442.5" stroke="#1c1c1c" stroke-width="0.7" />
<path d="M209.0,442.5 L220.3,433.3 L228.3,444.0" stroke="#1c1c1c" stroke-width="0.7" fill="none" stroke-linejoin="round" stroke-linecap="round" />
<circle cx="153.3" cy="395.0" r="8.5" stroke="#1c1c1c" stroke-width="1.1" fill="#fff"/>
<text x="153.5" y="398.4" font-size="9.9" text-anchor="middle" fill="#222" stroke="#222" stroke-width="0.15">33</text>
<line x1="153.3" y1="403.6" x2="153.3" y2="419.5" stroke="#1c1c1c" stroke-width="0.9" />
<path d="M149.8,421 C150.6,418 159.5,417.6 162.6,420.4 L178,436 L183.5,441 C185.5,443.5 185,446.5 183.4,448.6 L177,463 C175.4,467 170.4,469.6 166.4,468 L151.4,458.6 C149,457 148.4,454.6 149.6,452.4 L147,449.4 L150.4,443.4 L155,436.4 C151.4,431 149,425.6 149.8,421 Z" stroke="#1c1c1c" stroke-width="1.3" fill="#fff" stroke-linejoin="round" stroke-linecap="round" />
<path d="M152.4,423.2 C153.4,421.4 159.4,421.2 161.6,423 L177.6,439 M152.4,423.2 C152,427.6 154,432 157.6,437 L153.4,444" stroke="#1c1c1c" stroke-width="0.8" fill="none" stroke-linejoin="round" stroke-linecap="round" />
<path d="M153,457 L166.8,465.4 C169.8,466.4 173,464.6 174.4,461.8 L179.6,450" stroke="#1c1c1c" stroke-width="0.8" fill="none" stroke-linejoin="round" stroke-linecap="round" />
<circle cx="153.8" cy="423.8" r="1.4" stroke="#1c1c1c" stroke-width="0.9" fill="none"/>
<circle cx="161.2" cy="433.0" r="1.4" stroke="#1c1c1c" stroke-width="0.9" fill="none"/>
<circle cx="171.0" cy="442.0" r="1.5" stroke="#1c1c1c" stroke-width="0.9" fill="none"/>
<circle cx="159.0" cy="448.0" r="1.2" stroke="#1c1c1c" stroke-width="0.9" fill="none"/>
<circle cx="167.2" cy="455.0" r="1.3" stroke="#1c1c1c" stroke-width="0.9" fill="none"/>
<circle cx="173.0" cy="455.6" r="1.1" stroke="#1c1c1c" stroke-width="0.9" fill="none"/>
<circle cx="168.4" cy="464.0" r="1.5" stroke="#1c1c1c" stroke-width="0.9" fill="none"/>
<circle cx="164.0" cy="441.5" r="0.9" stroke="#1c1c1c" stroke-width="0.9" fill="none"/>
<path d="M175.6,436 L178.6,432.4 L183.4,433.4 L187,440.4 L187.2,446.6 C188.8,448.8 188.8,452 186.8,453.8 L184,457.2 L180,456.6 L177.6,452" stroke="#1c1c1c" stroke-width="1.3" fill="#fff" stroke-linejoin="round" stroke-linecap="round" />
<path d="M179.6,437.6 C181.2,436 184,437 184.4,439.4 M183.6,448.2 C185.2,447 187,448.6 186.4,450.8 M180,441 L184,447" stroke="#1c1c1c" stroke-width="0.9" fill="none" stroke-linejoin="round" stroke-linecap="round" />
<path d="M173.6,433.4 L176,429.6 L180,431.4" stroke="#1c1c1c" stroke-width="1.0" fill="none" stroke-linejoin="round" stroke-linecap="round" />
<ellipse cx="152.5" cy="451.0" rx="4.2" ry="5.4" transform="rotate(-20 152.5 451.0)" stroke="#1c1c1c" stroke-width="1.0" fill="#fff"/>
<line x1="150" y1="452" x2="107" y2="470.3" stroke="#1c1c1c" stroke-width="3.4"/>
<line x1="150.5" y1="451.8" x2="107.6" y2="470" stroke="#fff" stroke-width="1.7"/>
<line x1="107.5" y1="470" x2="97.5" y2="474.3" stroke="#1c1c1c" stroke-width="4.2"/>
<line x1="107" y1="470.3" x2="98.5" y2="474" stroke="#fff" stroke-width="2.2"/>
<ellipse cx="152.0" cy="451.3" rx="1.8" ry="2.4" transform="rotate(-20 152.0 451.3)" stroke="#1c1c1c" stroke-width="0.8" fill="#fff"/>
<line x1="138.0" y1="456.0" x2="139.5" y2="459.5" stroke="#1c1c1c" stroke-width="0.8" />
<g transform="translate(214.3 449.5) rotate(-28) scale(1.18)">
<rect x="-2.2" y="-7.5" width="4.4" height="4" fill="#fff" stroke="#1c1c1c" stroke-width="1"/>
<rect x="-3.6" y="-4" width="7.2" height="2.2" rx="1" fill="#fff" stroke="#1c1c1c" stroke-width="1.1"/>
<rect x="-3.2" y="-1.8" width="6.4" height="3.6" rx="0.8" fill="#fff" stroke="#1c1c1c" stroke-width="1.2"/>
<rect x="-2.4" y="1.8" width="4.8" height="4.2" fill="#fff" stroke="#1c1c1c" stroke-width="1"/>
<line x1="-2.4" y1="3.2" x2="2.4" y2="3.2" stroke="#333" stroke-width="0.6"/><line x1="-2.4" y1="4.6" x2="2.4" y2="4.6" stroke="#333" stroke-width="0.6"/>
</g>
<g transform="translate(231 449.5) rotate(-35) scale(1.15)">
<rect x="-2.0" y="-8" width="4" height="4" fill="#fff" stroke="#1c1c1c" stroke-width="1"/>
<rect x="-3.2" y="-4.4" width="6.4" height="3.6" rx="0.8" fill="#fff" stroke="#1c1c1c" stroke-width="1.2"/>
<rect x="-2.2" y="-0.8" width="4.4" height="3" fill="#fff" stroke="#1c1c1c" stroke-width="1"/>
<rect x="-1.5" y="2.2" width="3" height="5.6" rx="1.2" fill="#fff" stroke="#1c1c1c" stroke-width="1"/>
</g>
<text x="213.0" y="478.5" font-size="9.9" text-anchor="middle" fill="#222" stroke="#222" stroke-width="0.15">41</text>
<line x1="213.0" y1="468.5" x2="213.0" y2="457.0" stroke="#1c1c1c" stroke-width="0.8" />
<text x="247.5" y="483.5" font-size="9.9" text-anchor="middle" fill="#222" stroke="#222" stroke-width="0.15">36</text>
<line x1="242.5" y1="474.0" x2="236.0" y2="457.0" stroke="#1c1c1c" stroke-width="0.7" />
<g transform="translate(242.6 437.6)">
<ellipse cx="0.6" cy="3.2" rx="5" ry="4.9" fill="#fff" stroke="#111" stroke-width="3.0"/>
<path d="M-3.6,-2.6 L-4,-10.6 L2.6,-11.2 L3,-3.2 Z" fill="#111" stroke="#111" stroke-width="1.5" stroke-linejoin="round"/>
<path d="M0.6,-9.6 L0.9,-3.4" fill="none" stroke="#fff" stroke-width="1.3"/>
<path d="M-2.4,-0.6 C-3.4,1.6 -3.2,4.4 -1.6,6" fill="none" stroke="#111" stroke-width="1.4"/>
<path d="M3.9,0.6 C5.2,2.6 4.6,5.6 2.6,6.8" fill="none" stroke="#fff" stroke-width="0.7"/>
</g>
<g transform="translate(262.0 437.2) rotate(-155.8)">
<rect x="2" y="-1.5" width="9.0" height="3.0" rx="1.2" fill="#fff" stroke="#1c1c1c" stroke-width="1.0"/>
<line x1="4.6" y1="0" x2="10.2" y2="0" stroke="#666" stroke-width="1.8" stroke-dasharray="0.7 0.8"/>
<ellipse cx="2.4" cy="0" rx="1.5" ry="3.8" fill="#fff" stroke="#1c1c1c" stroke-width="1.1"/>
<ellipse cx="0" cy="0" rx="2.8049999999999997" ry="3.3" fill="#fff" stroke="#1c1c1c" stroke-width="1.4"/>
<path d="M-1.2,-1.4849999999999999 L1,-1.4849999999999999 M-1.6,1.32 L0.6,1.32" stroke="#333" stroke-width="0.7" fill="none"/>
</g>
<text x="247.5" y="459.8" font-size="9.9" text-anchor="middle" fill="#222" stroke="#222" stroke-width="0.15">13</text>
<line x1="246.0" y1="450.0" x2="244.5" y2="446.0" stroke="#1c1c1c" stroke-width="0.7" />
<text x="261.7" y="466.2" font-size="9.9" text-anchor="middle" fill="#222" stroke="#222" stroke-width="0.15">16</text>
<line x1="261.7" y1="456.0" x2="261.7" y2="442.0" stroke="#1c1c1c" stroke-width="0.7" />
<g transform="translate(219.4 456.6) rotate(-34)">
<path d="M-4.2,9.6 L-4.2,2.4 C-4.2,-1.6 4.2,-1.6 4.2,2.4 L4.2,9.6 Z" fill="#fff" stroke="#1c1c1c" stroke-width="1.3" stroke-linejoin="round"/>
<path d="M-4.2,3.4 C-2,5 2,5 4.2,3.4" fill="none" stroke="#1c1c1c" stroke-width="0.9"/>
<path d="M-4.2,9.6 C-2,11 2,11 4.2,9.6" fill="none" stroke="#1c1c1c" stroke-width="0.9"/>
</g>
<path d="M236.4,522.8 L236.4,527.8 L235.6,528.8 L235.6,540.8 L237.0,541.8 L237.0,546.8 L244.2,546.8 L244.2,541.8 L245.6,540.8 L245.6,528.8 L244.79999999999998,527.8 L244.79999999999998,522.8 Z" stroke="#1c1c1c" stroke-width="1.1" fill="#fff" stroke-linejoin="round" stroke-linecap="round" />
<path d="M235.6,528.8 C238.6,530.0999999999999 242.6,530.0999999999999 245.6,528.8" stroke="#1c1c1c" stroke-width="0.9" fill="none" stroke-linejoin="round" stroke-linecap="round" />
<path d="M235.6,532.8 C238.6,534.0999999999999 242.6,534.0999999999999 245.6,532.8" stroke="#1c1c1c" stroke-width="0.9" fill="none" stroke-linejoin="round" stroke-linecap="round" />
<path d="M235.6,536.8 C238.6,538.0999999999999 242.6,538.0999999999999 245.6,536.8" stroke="#1c1c1c" stroke-width="0.9" fill="none" stroke-linejoin="round" stroke-linecap="round" />
<path d="M235.6,541.3 C238.6,542.5999999999999 242.6,542.5999999999999 245.6,541.3" stroke="#1c1c1c" stroke-width="0.9" fill="none" stroke-linejoin="round" stroke-linecap="round" />
<line x1="238.2" y1="523.8" x2="238.2" y2="527.8" stroke="#777" stroke-width="0.5" />
<path d="M236.70000000000002,550.5 L236.70000000000002,556.5 L235.70000000000002,557.0 L235.70000000000002,559.5 C238.3,561.3 242.3,561.3 244.9,559.5 L244.9,557.0 L243.9,556.5 L243.9,550.5 C241.8,549.3 238.8,549.3 236.70000000000002,550.5 Z" stroke="#1c1c1c" stroke-width="1.2" fill="#fff" stroke-linejoin="round" stroke-linecap="round" />
<path d="M235.70000000000002,557.0 C238.3,558.8 242.3,558.8 244.9,557.0" stroke="#1c1c1c" stroke-width="0.9" fill="none" stroke-linejoin="round" stroke-linecap="round" />
<line x1="239.1" y1="551.5" x2="239.1" y2="556.0" stroke="#333" stroke-width="1.6" />
<text x="261.5" y="514.3" font-size="9.9" text-anchor="middle" fill="#222" stroke="#222" stroke-width="0.15">42</text>
<line x1="244.5" y1="510.8" x2="255.0" y2="510.8" stroke="#1c1c1c" stroke-width="0.8" />
<text x="262.5" y="559.3" font-size="9.9" text-anchor="middle" fill="#222" stroke="#222" stroke-width="0.15">43</text>
<line x1="246.5" y1="555.5" x2="255.5" y2="555.5" stroke="#1c1c1c" stroke-width="0.8" />
<text x="154.8" y="510.9" font-size="9.9" text-anchor="middle" fill="#222" stroke="#222" stroke-width="0.15">39</text>
<line x1="161.5" y1="506.8" x2="167.5" y2="506.8" stroke="#1c1c1c" stroke-width="0.8" />
<path d="M167.5,508.5 C168,505 171.5,503 175,503.5 C178,504 178.5,507 177,508.5 L172.5,512 L171.5,526.5 C171.5,529 169,530 167.5,529 L165,527 L165,515 Z" stroke="#1c1c1c" stroke-width="1.2" fill="#fff" stroke-linejoin="round" stroke-linecap="round" />
<path d="M165,515 L168,517 L168,529 M168,517 L172.5,512" stroke="#1c1c1c" stroke-width="0.7" fill="none" stroke-linejoin="round" stroke-linecap="round" />
<ellipse cx="174.0" cy="506.3" rx="1.9" ry="1.2" transform="rotate(-15 174.0 506.3)" stroke="#1c1c1c" stroke-width="0.8" fill="none"/>
<ellipse cx="169.8" cy="523.0" rx="0.9" ry="2.8" transform="rotate(0 169.8 523.0)" stroke="#1c1c1c" stroke-width="0.8" fill="none"/>
<g transform="translate(186.8 521.9) rotate(-143.4)">
<rect x="2" y="-1.5" width="7.2" height="3.0" rx="1.2" fill="#fff" stroke="#1c1c1c" stroke-width="1.0"/>
<line x1="4.6" y1="0" x2="8.4" y2="0" stroke="#666" stroke-width="1.8" stroke-dasharray="0.7 0.8"/>
<ellipse cx="2.4" cy="0" rx="1.5" ry="3.9" fill="#fff" stroke="#1c1c1c" stroke-width="1.1"/>
<ellipse cx="0" cy="0" rx="2.8899999999999997" ry="3.4" fill="#fff" stroke="#1c1c1c" stroke-width="1.4"/>
<path d="M-1.2,-1.53 L1,-1.53 M-1.6,1.36 L0.6,1.36" stroke="#333" stroke-width="0.7" fill="none"/>
</g>
<text x="206.3" y="524.1" font-size="9.9" text-anchor="middle" fill="#222" stroke="#222" stroke-width="0.15">37</text>
<line x1="191.6" y1="519.9" x2="198.8" y2="519.9" stroke="#1c1c1c" stroke-width="0.8" />
<path d="M151.6,520.3 L153.6,518.2 L157.2,518.4 L158.8,521.4 L157.6,525.2 L153.8,525.6 L151.6,523.2 Z" stroke="#1c1c1c" stroke-width="1.3" fill="#fff" stroke-linejoin="round" stroke-linecap="round" />
<path d="M153.6,518.2 L154.6,521 L157.6,525.2 M154.6,521 L151.6,523.2" stroke="#1c1c1c" stroke-width="0.6" fill="none" stroke-linejoin="round" stroke-linecap="round" />
<text x="154.3" y="543.1" font-size="9.9" text-anchor="middle" fill="#222" stroke="#222" stroke-width="0.15">40</text>
<line x1="155.5" y1="526.2" x2="155.5" y2="532.6" stroke="#1c1c1c" stroke-width="0.7" />
<line x1="159.0" y1="522.5" x2="164.5" y2="523.5" stroke="#1c1c1c" stroke-width="0.6" />
<g transform="translate(179.6 537.4)">
<ellipse cx="0.6" cy="3.2" rx="5" ry="4.9" fill="#fff" stroke="#111" stroke-width="3.0"/>
<path d="M-3.6,-2.6 L-4,-10.6 L2.6,-11.2 L3,-3.2 Z" fill="#111" stroke="#111" stroke-width="1.5" stroke-linejoin="round"/>
<path d="M0.6,-9.6 L0.9,-3.4" fill="none" stroke="#fff" stroke-width="1.3"/>
<path d="M-2.4,-0.6 C-3.4,1.6 -3.2,4.4 -1.6,6" fill="none" stroke="#111" stroke-width="1.4"/>
<path d="M3.9,0.6 C5.2,2.6 4.6,5.6 2.6,6.8" fill="none" stroke="#fff" stroke-width="0.7"/>
</g>
<text x="177.6" y="563.0" font-size="9.9" text-anchor="middle" fill="#222" stroke="#222" stroke-width="0.15">38</text>
<line x1="177.6" y1="553.6" x2="177.6" y2="547.0" stroke="#1c1c1c" stroke-width="0.8" />
<g transform="translate(198.0 539.0) rotate(-156.7)">
<rect x="2" y="-1.5" width="7.4" height="3.0" rx="1.2" fill="#fff" stroke="#1c1c1c" stroke-width="1.0"/>
<line x1="4.6" y1="0" x2="8.6" y2="0" stroke="#666" stroke-width="1.8" stroke-dasharray="0.7 0.8"/>
<ellipse cx="2.4" cy="0" rx="1.5" ry="4.0" fill="#fff" stroke="#1c1c1c" stroke-width="1.1"/>
<ellipse cx="0" cy="0" rx="2.975" ry="3.5" fill="#fff" stroke="#1c1c1c" stroke-width="1.4"/>
<path d="M-1.2,-1.575 L1,-1.575 M-1.6,1.4000000000000001 L0.6,1.4000000000000001" stroke="#333" stroke-width="0.7" fill="none"/>
</g>
<text x="198.8" y="561.7" font-size="9.9" text-anchor="middle" fill="#222" stroke="#222" stroke-width="0.15">16</text>
<line x1="197.8" y1="552.0" x2="197.8" y2="543.4" stroke="#1c1c1c" stroke-width="0.8" />
</g>
</svg>
</body></html>
